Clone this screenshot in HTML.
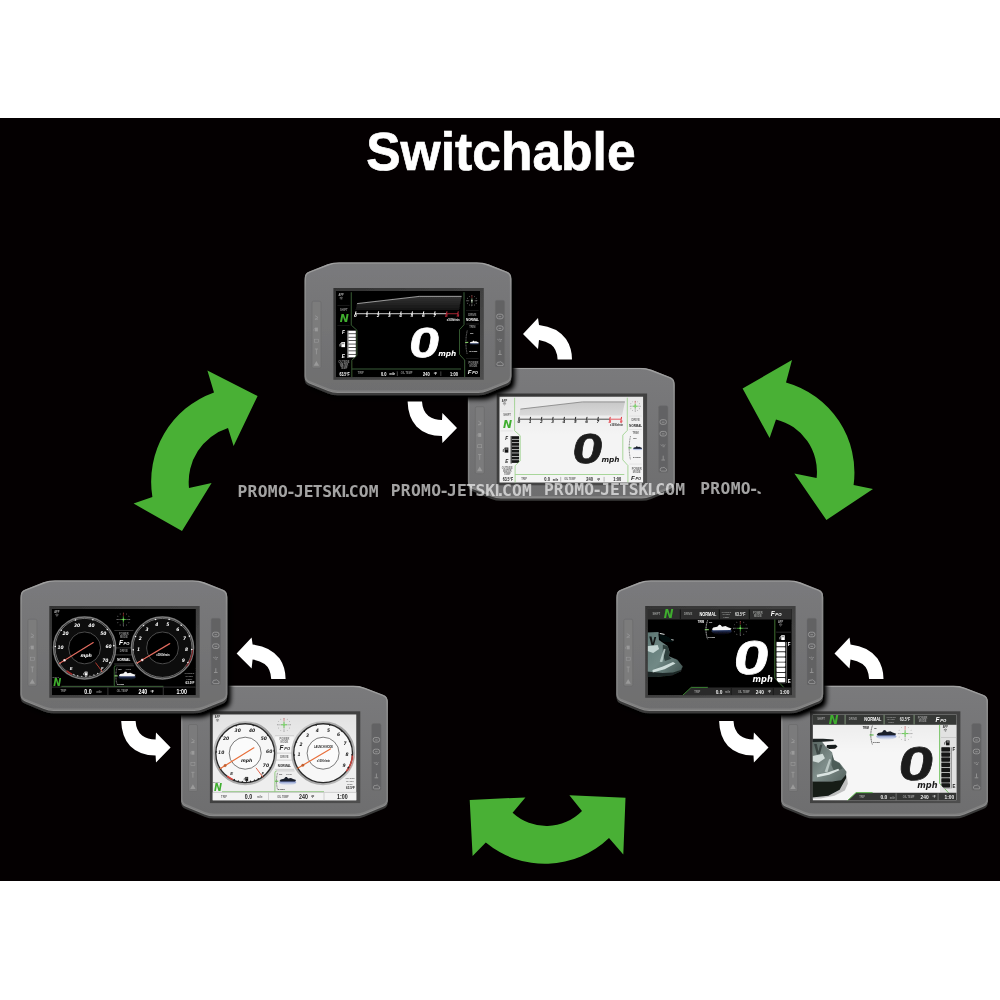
<!DOCTYPE html>
<html lang="en"><head><meta charset="utf-8"><title>Switchable</title>
<style>html,body{margin:0;padding:0;background:#fff}svg{display:block}</style></head><body>
<svg width="1000" height="1000" viewBox="0 0 1000 1000" style="opacity:.999">
<defs>
<linearGradient id="faceg" x1="0" y1="0" x2="0" y2="1"><stop offset="0" stop-color="#7a7a7c"/><stop offset="1" stop-color="#6e6e6f"/></linearGradient>
<linearGradient id="edgeg" x1="0" y1="0" x2="0" y2="1"><stop offset="0" stop-color="#a2a2a2"/><stop offset=".2" stop-color="#8c8c8c"/><stop offset="1" stop-color="#808080"/></linearGradient>
<linearGradient id="bezg" x1="0" y1="0" x2="1" y2="1"><stop offset="0" stop-color="#333333"/><stop offset=".55" stop-color="#424242"/><stop offset="1" stop-color="#4e4e4e"/></linearGradient>
<linearGradient id="lightscr" x1="0" y1="0" x2="0" y2="1"><stop offset="0" stop-color="#000" stop-opacity=".05"/><stop offset=".45" stop-color="#000" stop-opacity="0"/><stop offset="1" stop-color="#000" stop-opacity="0"/></linearGradient>
<linearGradient id="waterD" x1="0" y1="0" x2="0" y2="1"><stop offset="0" stop-color="#5a78c8"/><stop offset="1" stop-color="#0a1430" stop-opacity=".2"/></linearGradient>
<linearGradient id="waterL" x1="0" y1="0" x2="0" y2="1"><stop offset="0" stop-color="#2a46a0"/><stop offset="1" stop-color="#9ab0e8" stop-opacity=".1"/></linearGradient>
<linearGradient id="skiD" x1="0" y1="0" x2="1" y2="1"><stop offset="0" stop-color="#5e7673"/><stop offset=".5" stop-color="#718986"/><stop offset="1" stop-color="#3c4e4b"/></linearGradient>
<linearGradient id="skiL" x1="0" y1="0" x2="1" y2="1"><stop offset="0" stop-color="#56635f"/><stop offset=".5" stop-color="#7f8e8b"/><stop offset="1" stop-color="#55635f"/></linearGradient>
<clipPath id="facec"><path d="M22.90 2.16Q28.50 0.00 34.50 0.00L172.20 0.00Q178.20 0.00 183.80 2.16L202.04 9.20Q206.70 11.00 206.70 16.00L206.70 113.20Q206.70 118.20 202.07 120.09L183.33 127.71Q178.70 129.60 173.70 129.60L33.00 129.60Q28.00 129.60 23.37 127.71L4.63 120.09Q0.00 118.20 0.00 113.20L0.00 16.00Q0.00 11.00 4.66 9.20Z"/></clipPath>
<clipPath id="scrclip"><rect x="0" y="0" width="144" height="86.2"/></clipPath>
<linearGradient id="rpmD" x1="0" y1="0" x2="0" y2="1"><stop offset="0" stop-color="#323232"/><stop offset="1" stop-color="#151515"/></linearGradient>
<linearGradient id="rpmL" x1="0" y1="0" x2="0" y2="1"><stop offset="0" stop-color="#c8c8c8"/><stop offset="1" stop-color="#dadada"/></linearGradient>
<clipPath id="fuelclip1"><path d="M10 38 H20.4 V64.6 L17.6 67.4 H10 Z"/></clipPath>
<linearGradient id="silver" x1="0" y1="0" x2="1" y2="1"><stop offset="0" stop-color="#d2d2d2"/><stop offset=".5" stop-color="#9c9c9c"/><stop offset="1" stop-color="#c8c8c8"/></linearGradient>
<clipPath id="fuelclip"><path d="M128 30 H140 V85 L128.4 70.6 Z"/></clipPath>
<filter id="soft" x="-5%" y="-5%" width="110%" height="110%"><feGaussianBlur stdDeviation="0.7"/></filter>
<filter id="shadow" x="-10%" y="-10%" width="125%" height="130%"><feGaussianBlur in="SourceAlpha" stdDeviation="2.8"/><feOffset dx="2.5" dy="3.5"/><feComponentTransfer><feFuncA type="linear" slope="1.15"/></feComponentTransfer><feMerge><feMergeNode/><feMergeNode in="SourceGraphic"/></feMerge></filter>
<g id="dev"><path d="M22.90 2.16Q28.50 0.00 34.50 0.00L172.20 0.00Q178.20 0.00 183.80 2.16L202.04 9.20Q206.70 11.00 206.70 16.00L206.70 113.20Q206.70 118.20 202.07 120.09L183.33 127.71Q178.70 129.60 173.70 129.60L33.00 129.60Q28.00 129.60 23.37 127.71L4.63 120.09Q0.00 118.20 0.00 113.20L0.00 16.00Q0.00 11.00 4.66 9.20Z" transform="translate(0 3.5)" fill="#3a3a3a"/><path d="M22.90 2.16Q28.50 0.00 34.50 0.00L172.20 0.00Q178.20 0.00 183.80 2.16L202.04 9.20Q206.70 11.00 206.70 16.00L206.70 113.20Q206.70 118.20 202.07 120.09L183.33 127.71Q178.70 129.60 173.70 129.60L33.00 129.60Q28.00 129.60 23.37 127.71L4.63 120.09Q0.00 118.20 0.00 113.20L0.00 16.00Q0.00 11.00 4.66 9.20Z" transform="translate(0 1.2)" fill="#8a8a8a"/><path d="M22.90 2.16Q28.50 0.00 34.50 0.00L172.20 0.00Q178.20 0.00 183.80 2.16L202.04 9.20Q206.70 11.00 206.70 16.00L206.70 113.20Q206.70 118.20 202.07 120.09L183.33 127.71Q178.70 129.60 173.70 129.60L33.00 129.60Q28.00 129.60 23.37 127.71L4.63 120.09Q0.00 118.20 0.00 113.20L0.00 16.00Q0.00 11.00 4.66 9.20Z" fill="url(#faceg)" stroke="url(#edgeg)" stroke-width="2.8" clip-path="url(#facec)"/><rect x="7.4" y="39" width="9" height="67" rx="1.6" fill="#7b7b7c" stroke="#676767" stroke-width=".5"/><rect x="190.6" y="38.1" width="9.4" height="66.7" rx="1.6" fill="#626264" stroke="#6c6c6c" stroke-width=".5"/><path d="M10.40 53.4 l3 1.9 l-3 1.9 M10.20 57 h3.2" fill="none" stroke="#9a9a9a" stroke-width="0.75" /><rect x="10.30" y="65.40" width="3.00" height="3.80" fill="#9a9a9a" /><path d="M10.30 66 l-1 .8 v2" fill="none" stroke="#9a9a9a" stroke-width="0.50" /><rect x="9.80" y="77" width="4" height="3" fill="none" stroke="#9a9a9a" stroke-width=".6"/><path d="M10.20 86.8 h3.2 M11.80 86.8 v5.4" fill="none" stroke="#9a9a9a" stroke-width="0.85" /><path d="M11.80 98.8 l2.7 4.8 h-5.4 Z" fill="#9a9a9a" stroke="none" stroke-width="0.60" /><rect x="192.10" y="52.00" width="6.4" height="4.6" rx="2" fill="none" stroke="#a0a0a0" stroke-width=".8"/><line x1="194.00" y1="54.50" x2="196.60" y2="54.50" stroke="#a0a0a0" stroke-width="0.70" /><rect x="192.10" y="63.70" width="6.4" height="4.6" rx="2" fill="none" stroke="#a0a0a0" stroke-width=".8"/><line x1="194.00" y1="66.20" x2="196.60" y2="66.20" stroke="#a0a0a0" stroke-width="0.70" /><path d="M192.70 77.0 q1.2 1.6 2.4 0 q1.2 1.6 2.4 0 M194.70 79 h2" fill="none" stroke="#a0a0a0" stroke-width="0.65" /><path d="M195.30 88 v4 M193.50 92.3 h3.6" fill="none" stroke="#a0a0a0" stroke-width="0.75" /><path d="M193.40 103.4 q-1.8 -0.4 -1 -2 q0.2 -1.8 2.2 -1.4 q1.8 -1.2 2.8 0.6 q2 0.4 1 2.8 Z" fill="none" stroke="#a0a0a0" stroke-width="0.75" /><rect x="28.8" y="25.8" width="150.4" height="91.8" fill="url(#bezg)"/></g>
</defs>
<rect width="1000" height="1000" fill="#fff"/>
<rect x="0" y="118" width="1000" height="763" fill="#040001"/>
<text x="366.2" y="169.6" font-family="'Liberation Sans', sans-serif" font-weight="bold" font-size="53.4" textLength="269.4" lengthAdjust="spacingAndGlyphs" fill="#fff" stroke="#fff" stroke-width=".7">Switchable</text>
<path d="M257.6 396 L207.4 370.4 L214 392.4 A94.8 94.8 0 0 0 152.4 497 L133.6 503.6 L182 531 L211.6 483 L189 488 A56.7 56.7 0 0 1 228 428 L233.6 446 Z" fill="#49b035" stroke="none" stroke-width="0.60" /><path d="M742.6 388.6 L792 360 L786 382.4 A93.6 93.6 0 0 1 853.6 485 L873 489 L826.4 520 L794.4 473.6 L816.6 478 A54 54 0 0 0 776 419.4 L769.6 438 Z" fill="#49b035" stroke="none" stroke-width="0.60" /><path d="M469.7 800 L525.4 797.4 L512.6 812.8 A49.8 49.8 0 0 0 582 811 L569.4 795.2 L625.5 797.8 L623.3 854.6 L609 838 A92.5 92.5 0 0 1 485.8 842.5 L472.6 856 Z" fill="#49b035" stroke="none" stroke-width="0.60" />
<g transform="translate(467.90 367.70)"><use href="#dev"/><g transform="translate(31.4 28.8)"><g clip-path="url(#scrclip)"><rect x="0.00" y="0.00" width="144.00" height="86.20" fill="#f4f4f4" /><rect x="0.00" y="0.00" width="144.00" height="86.20" fill="url(#lightscr)" /><path d="M15.3 1.2 V34.2 L20.9 39.2 V64.4 L15.8 69.2 V86" fill="none" stroke="#8fcc7c" stroke-width="0.75" /><path d="M16 78 H125" fill="none" stroke="#8fcc7c" stroke-width="0.75" /><path d="M128 1.2 V33.9 L123.5 38.6 V63.4 L128.6 69 V86" fill="none" stroke="#8fcc7c" stroke-width="0.75" /><text transform="translate(5.20 5.00) scale(0.0950 0.1000)" font-family="'Liberation Sans', sans-serif" font-size="27.0" font-weight="bold" font-style="normal" text-anchor="middle" fill="#333" >APP</text><path d="M3.60 6.90 q1.6 -1.3 3.2 0" fill="none" stroke="#333" stroke-width="0.55" /><path d="M4.30 7.80 q0.9 -0.8 1.8 0" fill="none" stroke="#333" stroke-width="0.55" /><circle cx="5.20" cy="8.50" r="0.35" fill="#333" stroke="none" stroke-width="0.60" /><line x1="1.50" y1="14.60" x2="13.50" y2="14.60" stroke="#cfcfcf" stroke-width="0.40" /><text transform="translate(7.80 19.70) scale(0.1000 0.1000)" font-family="'Liberation Sans', sans-serif" font-size="27.0" font-weight="bold" font-style="normal" text-anchor="middle" fill="#6a6a6a" >SHIFT</text><text transform="translate(8.20 31.30) scale(0.1000 0.1000)" font-family="'DejaVu Sans', sans-serif" font-size="108.0" font-weight="bold" font-style="italic" text-anchor="middle" fill="#3fae2f" >N</text><line x1="1.50" y1="34.40" x2="13.50" y2="34.40" stroke="#cfcfcf" stroke-width="0.40" /><path d="M21.1 12.6 L83.2 5.4 L125.6 5.4 L122.8 19 L19.8 19 Z" fill="url(#rpmL)" stroke="none" stroke-width="0.60" /><path d="M21.1 12.6 L83.2 5.4 L125.6 5.4" fill="none" stroke="#7a7a7a" stroke-width="0.75" /><line x1="19.30" y1="22.70" x2="110.40" y2="22.70" stroke="#222" stroke-width="0.80" /><line x1="110.40" y1="22.70" x2="122.20" y2="22.70" stroke="#e2343c" stroke-width="0.80" /><line x1="19.95" y1="20.40" x2="19.45" y2="23.20" stroke="#222" stroke-width="1.00" /><text transform="translate(19.50 26.00) scale(0.1000 0.1000)" font-family="'DejaVu Sans', sans-serif" font-size="40.0" font-weight="bold" font-style="italic" text-anchor="middle" fill="#222" >0</text><line x1="31.25" y1="20.40" x2="30.75" y2="23.20" stroke="#222" stroke-width="1.00" /><text transform="translate(30.80 26.00) scale(0.1000 0.1000)" font-family="'DejaVu Sans', sans-serif" font-size="40.0" font-weight="bold" font-style="italic" text-anchor="middle" fill="#222" >1</text><line x1="42.55" y1="20.40" x2="42.05" y2="23.20" stroke="#222" stroke-width="1.00" /><text transform="translate(42.10 26.00) scale(0.1000 0.1000)" font-family="'DejaVu Sans', sans-serif" font-size="40.0" font-weight="bold" font-style="italic" text-anchor="middle" fill="#222" >2</text><line x1="53.85" y1="20.40" x2="53.35" y2="23.20" stroke="#222" stroke-width="1.00" /><text transform="translate(53.40 26.00) scale(0.1000 0.1000)" font-family="'DejaVu Sans', sans-serif" font-size="40.0" font-weight="bold" font-style="italic" text-anchor="middle" fill="#222" >3</text><line x1="65.15" y1="20.40" x2="64.65" y2="23.20" stroke="#222" stroke-width="1.00" /><text transform="translate(64.70 26.00) scale(0.1000 0.1000)" font-family="'DejaVu Sans', sans-serif" font-size="40.0" font-weight="bold" font-style="italic" text-anchor="middle" fill="#222" >4</text><line x1="76.45" y1="20.40" x2="75.95" y2="23.20" stroke="#222" stroke-width="1.00" /><text transform="translate(76.00 26.00) scale(0.1000 0.1000)" font-family="'DejaVu Sans', sans-serif" font-size="40.0" font-weight="bold" font-style="italic" text-anchor="middle" fill="#222" >5</text><line x1="87.75" y1="20.40" x2="87.25" y2="23.20" stroke="#222" stroke-width="1.00" /><text transform="translate(87.30 26.00) scale(0.1000 0.1000)" font-family="'DejaVu Sans', sans-serif" font-size="40.0" font-weight="bold" font-style="italic" text-anchor="middle" fill="#222" >6</text><line x1="99.05" y1="20.40" x2="98.55" y2="23.20" stroke="#222" stroke-width="1.00" /><text transform="translate(98.60 26.00) scale(0.1000 0.1000)" font-family="'DejaVu Sans', sans-serif" font-size="40.0" font-weight="bold" font-style="italic" text-anchor="middle" fill="#222" >7</text><line x1="110.95" y1="20.40" x2="110.45" y2="23.20" stroke="#e2343c" stroke-width="1.00" /><text transform="translate(110.50 26.00) scale(0.1000 0.1000)" font-family="'DejaVu Sans', sans-serif" font-size="40.0" font-weight="bold" font-style="italic" text-anchor="middle" fill="#e2343c" >8</text><line x1="122.25" y1="20.40" x2="121.75" y2="23.20" stroke="#e2343c" stroke-width="1.00" /><text transform="translate(121.80 26.00) scale(0.1000 0.1000)" font-family="'DejaVu Sans', sans-serif" font-size="40.0" font-weight="bold" font-style="italic" text-anchor="middle" fill="#e2343c" >9</text><text transform="translate(117.20 29.60) scale(0.0950 0.1000)" font-family="'Liberation Sans', sans-serif" font-size="26.0" font-weight="bold" font-style="normal" text-anchor="middle" fill="#1c1c1c" >x1000r/min</text><text transform="translate(7.40 43.40) scale(0.1000 0.1000)" font-family="'Liberation Sans', sans-serif" font-size="46.0" font-weight="bold" font-style="italic" text-anchor="middle" fill="#1c1c1c" >F</text><text transform="translate(7.40 66.90) scale(0.1000 0.1000)" font-family="'Liberation Sans', sans-serif" font-size="46.0" font-weight="bold" font-style="italic" text-anchor="middle" fill="#1c1c1c" >E</text><g transform="translate(7.20 53.60) scale(1.150)"><rect x="-1.6" y="-2.2" width="3.2" height="4.4" fill="#111"/><rect x="-1" y="-1.6" width="2" height="1.3" fill="#fff" opacity=".45"/><path d="M-1.6 -1.2 L-2.8 -0.4 V1.6" fill="none" stroke="#111" stroke-width=".6"/></g><g clip-path="url(#fuelclip1)"><rect x="11.20" y="39.60" width="1.40" height="27.40" fill="#555" /><rect x="12.40" y="39.70" width="7.40" height="2.75" fill="#161616" /><rect x="12.40" y="43.12" width="7.40" height="2.75" fill="#161616" /><rect x="12.40" y="46.54" width="7.40" height="2.75" fill="#161616" /><rect x="12.40" y="49.96" width="7.40" height="2.75" fill="#161616" /><rect x="12.40" y="53.38" width="7.40" height="2.75" fill="#161616" /><rect x="12.40" y="56.80" width="7.40" height="2.75" fill="#161616" /><rect x="12.40" y="60.22" width="7.40" height="2.75" fill="#161616" /><rect x="12.40" y="63.64" width="7.40" height="2.75" fill="#161616" /></g><text transform="translate(8.00 72.00) scale(0.0950 0.1000)" font-family="'Liberation Sans', sans-serif" font-size="26.0" font-weight="bold" font-style="normal" text-anchor="middle" fill="#6a6a6a" >OUTSIDE</text><text transform="translate(8.00 75.00) scale(0.0950 0.1000)" font-family="'Liberation Sans', sans-serif" font-size="26.0" font-weight="bold" font-style="normal" text-anchor="middle" fill="#6a6a6a" >WATER</text><text transform="translate(8.00 78.00) scale(0.0950 0.1000)" font-family="'Liberation Sans', sans-serif" font-size="26.0" font-weight="bold" font-style="normal" text-anchor="middle" fill="#6a6a6a" >TEMP</text><text transform="translate(8.60 84.50) scale(0.0700 0.1000)" font-family="'Liberation Sans', sans-serif" font-size="50.0" font-weight="bold" font-style="normal" text-anchor="middle" fill="#1c1c1c" >63.5°F</text><text transform="translate(24.80 83.30) scale(0.1000 0.1000)" font-family="'Liberation Sans', sans-serif" font-size="26.0" font-weight="bold" font-style="normal" text-anchor="middle" fill="#6a6a6a" >TRIP</text><text transform="translate(47.80 84.50) scale(0.0800 0.1000)" font-family="'Liberation Sans', sans-serif" font-size="50.0" font-weight="bold" font-style="normal" text-anchor="middle" fill="#1c1c1c" >0.0</text><text transform="translate(56.20 84.00) scale(0.1000 0.1000)" font-family="'Liberation Sans', sans-serif" font-size="27.0" font-weight="bold" font-style="normal" text-anchor="middle" fill="#1c1c1c" >mile</text><line x1="61.40" y1="80.40" x2="61.40" y2="85.00" stroke="#6a6a6a" stroke-width="0.45" /><text transform="translate(70.60 83.30) scale(0.0950 0.1000)" font-family="'Liberation Sans', sans-serif" font-size="26.0" font-weight="bold" font-style="normal" text-anchor="middle" fill="#6a6a6a" >OIL TEMP</text><text transform="translate(90.30 84.50) scale(0.0800 0.1000)" font-family="'Liberation Sans', sans-serif" font-size="50.0" font-weight="bold" font-style="normal" text-anchor="middle" fill="#1c1c1c" >240</text><text transform="translate(99.30 84.20) scale(0.1000 0.1000)" font-family="'Liberation Sans', sans-serif" font-size="30.0" font-weight="bold" font-style="normal" text-anchor="middle" fill="#1c1c1c" >°F</text><line x1="104.80" y1="80.40" x2="104.80" y2="85.00" stroke="#6a6a6a" stroke-width="0.45" /><text transform="translate(117.90 84.50) scale(0.0800 0.1000)" font-family="'Liberation Sans', sans-serif" font-size="50.0" font-weight="bold" font-style="normal" text-anchor="middle" fill="#1c1c1c" >1:00</text><text transform="translate(89.00 66.10) skewX(4.0) scale(0.1310 0.1000)" font-family="'Liberation Sans', sans-serif" font-size="418.0" font-weight="bold" font-style="italic" text-anchor="middle" fill="#1c1c1c" stroke="#1c1c1c" stroke-width="6.0" stroke-linejoin="round">0</text><text transform="translate(111.20 65.30) scale(0.1000 0.1000)" font-family="'DejaVu Sans', sans-serif" font-size="73.0" font-weight="bold" font-style="italic" text-anchor="middle" fill="#1c1c1c" >mph</text><circle cx="140.90" cy="9.70" r="0.45" fill="#888" stroke="none" stroke-width="0.60" /><circle cx="140.23" cy="12.20" r="0.45" fill="#888" stroke="none" stroke-width="0.60" /><circle cx="138.40" cy="14.03" r="0.45" fill="#888" stroke="none" stroke-width="0.60" /><circle cx="135.90" cy="14.70" r="0.45" fill="#888" stroke="none" stroke-width="0.60" /><circle cx="133.40" cy="14.03" r="0.45" fill="#888" stroke="none" stroke-width="0.60" /><circle cx="131.57" cy="12.20" r="0.45" fill="#888" stroke="none" stroke-width="0.60" /><circle cx="130.90" cy="9.70" r="0.45" fill="#888" stroke="none" stroke-width="0.60" /><circle cx="131.57" cy="7.20" r="0.45" fill="#888" stroke="none" stroke-width="0.60" /><circle cx="133.40" cy="5.37" r="0.45" fill="#888" stroke="none" stroke-width="0.60" /><circle cx="135.90" cy="4.70" r="0.45" fill="#888" stroke="none" stroke-width="0.60" /><circle cx="138.40" cy="5.37" r="0.45" fill="#888" stroke="none" stroke-width="0.60" /><circle cx="140.23" cy="7.20" r="0.45" fill="#888" stroke="none" stroke-width="0.60" /><line x1="138.65" y1="9.70" x2="141.15" y2="9.70" stroke="#888" stroke-width="0.50" /><line x1="135.90" y1="12.45" x2="135.90" y2="14.95" stroke="#888" stroke-width="0.50" /><line x1="133.15" y1="9.70" x2="130.65" y2="9.70" stroke="#888" stroke-width="0.50" /><line x1="135.90" y1="6.95" x2="135.90" y2="4.45" stroke="#c33" stroke-width="0.50" /><line x1="133.40" y1="9.70" x2="138.40" y2="9.70" stroke="#49b035" stroke-width="0.80" /><line x1="135.90" y1="7.20" x2="135.90" y2="12.20" stroke="#49b035" stroke-width="0.80" /><circle cx="135.90" cy="9.70" r="1.00" fill="#7fdc6a" stroke="none" stroke-width="0.60" /><line x1="130.00" y1="19.60" x2="142.50" y2="19.60" stroke="#cfcfcf" stroke-width="0.40" /><text transform="translate(136.30 24.50) scale(0.1000 0.1000)" font-family="'Liberation Sans', sans-serif" font-size="27.0" font-weight="bold" font-style="normal" text-anchor="middle" fill="#6a6a6a" >DRIVE</text><text transform="translate(136.40 30.30) scale(0.0660 0.1000)" font-family="'Liberation Sans', sans-serif" font-size="44.0" font-weight="bold" font-style="normal" text-anchor="middle" fill="#1c1c1c" >NORMAL</text><line x1="130.00" y1="33.00" x2="142.50" y2="33.00" stroke="#cfcfcf" stroke-width="0.40" /><text transform="translate(136.30 37.30) scale(0.1000 0.1000)" font-family="'Liberation Sans', sans-serif" font-size="26.0" font-weight="bold" font-style="normal" text-anchor="middle" fill="#6a6a6a" >TRIM</text><text transform="translate(135.80 42.80) scale(0.1000 0.1000)" font-family="'Liberation Sans', sans-serif" font-size="25.0" font-weight="bold" font-style="normal" text-anchor="middle" fill="#1c1c1c" >UP</text><g transform="translate(138.30 51.30) scale(0.440)"><ellipse cx="0" cy="3.2" rx="10.5" ry="3.2" fill="url(#waterL)"/><path d="M-10 1.2 L-8.5 -0.6 L-4.5 -1.4 L-2.6 -3.6 L-1 -3.4 L0.5 -1.6 L4 -2.2 L6.5 -1 L10.2 0.2 L9 1.9 L-8.6 2.1 Z" fill="#1a1f2a"/></g><text transform="translate(137.40 61.10) scale(0.1000 0.1000)" font-family="'Liberation Sans', sans-serif" font-size="24.0" font-weight="bold" font-style="normal" text-anchor="middle" fill="#1c1c1c" >DOWN</text><path d="M131.2 39.6 Q128.6 51.5 131.2 63.4" fill="none" stroke="#333" stroke-width="0.60" stroke-dasharray="1 .6"/><line x1="129.20" y1="51.40" x2="132.20" y2="51.40" stroke="#49b035" stroke-width="1.00" /><line x1="130.00" y1="67.60" x2="142.50" y2="67.60" stroke="#cfcfcf" stroke-width="0.40" /><text transform="translate(137.40 73.30) scale(0.1000 0.1000)" font-family="'Liberation Sans', sans-serif" font-size="26.0" font-weight="bold" font-style="normal" text-anchor="middle" fill="#6a6a6a" >POWER</text><text transform="translate(137.40 76.40) scale(0.1000 0.1000)" font-family="'Liberation Sans', sans-serif" font-size="26.0" font-weight="bold" font-style="normal" text-anchor="middle" fill="#6a6a6a" >MODE</text><text transform="translate(133.60 83.30) scale(0.1000 0.1000)" font-family="'Liberation Sans', sans-serif" font-size="62.0" font-weight="bold" font-style="italic" text-anchor="middle" fill="#1c1c1c" >F</text><text transform="translate(138.90 83.30) scale(0.1000 0.1000)" font-family="'Liberation Sans', sans-serif" font-size="38.0" font-weight="bold" font-style="italic" text-anchor="middle" fill="#1c1c1c" >PO</text></g></g></g>
<g transform="translate(304.60 262.20)" filter="url(#shadow)"><use href="#dev"/><g transform="translate(31.4 28.8)"><g clip-path="url(#scrclip)"><rect x="0.00" y="0.00" width="144.00" height="86.20" fill="#050505" /><path d="M15.3 1.2 V34.2 L20.9 39.2 V64.4 L15.8 69.2 V86" fill="none" stroke="#3f6b3a" stroke-width="0.80" /><path d="M16 78 H125" fill="none" stroke="#3f6b3a" stroke-width="0.80" /><path d="M128 1.2 V33.9 L123.5 38.6 V63.4 L128.6 69 V86" fill="none" stroke="#3f6b3a" stroke-width="0.80" /><text transform="translate(5.20 5.00) scale(0.0950 0.1000)" font-family="'Liberation Sans', sans-serif" font-size="27.0" font-weight="bold" font-style="normal" text-anchor="middle" fill="#b0b0b0" >APP</text><path d="M3.60 6.90 q1.6 -1.3 3.2 0" fill="none" stroke="#b0b0b0" stroke-width="0.55" /><path d="M4.30 7.80 q0.9 -0.8 1.8 0" fill="none" stroke="#b0b0b0" stroke-width="0.55" /><circle cx="5.20" cy="8.50" r="0.35" fill="#b0b0b0" stroke="none" stroke-width="0.60" /><line x1="1.50" y1="14.60" x2="13.50" y2="14.60" stroke="#333" stroke-width="0.40" /><text transform="translate(7.80 19.70) scale(0.1000 0.1000)" font-family="'Liberation Sans', sans-serif" font-size="27.0" font-weight="bold" font-style="normal" text-anchor="middle" fill="#8e8e8e" >SHIFT</text><text transform="translate(8.20 31.30) scale(0.1000 0.1000)" font-family="'DejaVu Sans', sans-serif" font-size="108.0" font-weight="bold" font-style="italic" text-anchor="middle" fill="#3fae2f" >N</text><line x1="1.50" y1="34.40" x2="13.50" y2="34.40" stroke="#333" stroke-width="0.40" /><path d="M21.1 12.6 L83.2 5.4 L125.6 5.4 L122.8 19 L19.8 19 Z" fill="url(#rpmD)" stroke="none" stroke-width="0.60" /><path d="M21.1 12.6 L83.2 5.4 L125.6 5.4" fill="none" stroke="#c4c4c4" stroke-width="0.75" /><line x1="19.30" y1="22.70" x2="110.40" y2="22.70" stroke="#ffffff" stroke-width="0.80" /><line x1="110.40" y1="22.70" x2="122.20" y2="22.70" stroke="#c32a3a" stroke-width="0.80" /><line x1="19.95" y1="20.40" x2="19.45" y2="23.20" stroke="#ffffff" stroke-width="1.00" /><text transform="translate(19.50 26.00) scale(0.1000 0.1000)" font-family="'DejaVu Sans', sans-serif" font-size="40.0" font-weight="bold" font-style="italic" text-anchor="middle" fill="#ffffff" >0</text><line x1="31.25" y1="20.40" x2="30.75" y2="23.20" stroke="#ffffff" stroke-width="1.00" /><text transform="translate(30.80 26.00) scale(0.1000 0.1000)" font-family="'DejaVu Sans', sans-serif" font-size="40.0" font-weight="bold" font-style="italic" text-anchor="middle" fill="#ffffff" >1</text><line x1="42.55" y1="20.40" x2="42.05" y2="23.20" stroke="#ffffff" stroke-width="1.00" /><text transform="translate(42.10 26.00) scale(0.1000 0.1000)" font-family="'DejaVu Sans', sans-serif" font-size="40.0" font-weight="bold" font-style="italic" text-anchor="middle" fill="#ffffff" >2</text><line x1="53.85" y1="20.40" x2="53.35" y2="23.20" stroke="#ffffff" stroke-width="1.00" /><text transform="translate(53.40 26.00) scale(0.1000 0.1000)" font-family="'DejaVu Sans', sans-serif" font-size="40.0" font-weight="bold" font-style="italic" text-anchor="middle" fill="#ffffff" >3</text><line x1="65.15" y1="20.40" x2="64.65" y2="23.20" stroke="#ffffff" stroke-width="1.00" /><text transform="translate(64.70 26.00) scale(0.1000 0.1000)" font-family="'DejaVu Sans', sans-serif" font-size="40.0" font-weight="bold" font-style="italic" text-anchor="middle" fill="#ffffff" >4</text><line x1="76.45" y1="20.40" x2="75.95" y2="23.20" stroke="#ffffff" stroke-width="1.00" /><text transform="translate(76.00 26.00) scale(0.1000 0.1000)" font-family="'DejaVu Sans', sans-serif" font-size="40.0" font-weight="bold" font-style="italic" text-anchor="middle" fill="#ffffff" >5</text><line x1="87.75" y1="20.40" x2="87.25" y2="23.20" stroke="#ffffff" stroke-width="1.00" /><text transform="translate(87.30 26.00) scale(0.1000 0.1000)" font-family="'DejaVu Sans', sans-serif" font-size="40.0" font-weight="bold" font-style="italic" text-anchor="middle" fill="#ffffff" >6</text><line x1="99.05" y1="20.40" x2="98.55" y2="23.20" stroke="#ffffff" stroke-width="1.00" /><text transform="translate(98.60 26.00) scale(0.1000 0.1000)" font-family="'DejaVu Sans', sans-serif" font-size="40.0" font-weight="bold" font-style="italic" text-anchor="middle" fill="#ffffff" >7</text><line x1="110.95" y1="20.40" x2="110.45" y2="23.20" stroke="#c32a3a" stroke-width="1.00" /><text transform="translate(110.50 26.00) scale(0.1000 0.1000)" font-family="'DejaVu Sans', sans-serif" font-size="40.0" font-weight="bold" font-style="italic" text-anchor="middle" fill="#c32a3a" >8</text><line x1="122.25" y1="20.40" x2="121.75" y2="23.20" stroke="#c32a3a" stroke-width="1.00" /><text transform="translate(121.80 26.00) scale(0.1000 0.1000)" font-family="'DejaVu Sans', sans-serif" font-size="40.0" font-weight="bold" font-style="italic" text-anchor="middle" fill="#c32a3a" >9</text><text transform="translate(117.20 29.60) scale(0.0950 0.1000)" font-family="'Liberation Sans', sans-serif" font-size="26.0" font-weight="bold" font-style="normal" text-anchor="middle" fill="#ffffff" >x1000r/min</text><text transform="translate(7.40 43.40) scale(0.1000 0.1000)" font-family="'Liberation Sans', sans-serif" font-size="46.0" font-weight="bold" font-style="italic" text-anchor="middle" fill="#ffffff" >F</text><text transform="translate(7.40 66.90) scale(0.1000 0.1000)" font-family="'Liberation Sans', sans-serif" font-size="46.0" font-weight="bold" font-style="italic" text-anchor="middle" fill="#ffffff" >E</text><g transform="translate(7.20 53.60) scale(1.150)"><rect x="-1.6" y="-2.2" width="3.2" height="4.4" fill="#ffffff"/><rect x="-1" y="-1.6" width="2" height="1.3" fill="#000" opacity=".45"/><path d="M-1.6 -1.2 L-2.8 -0.4 V1.6" fill="none" stroke="#ffffff" stroke-width=".6"/></g><g clip-path="url(#fuelclip1)"><rect x="11.20" y="39.60" width="1.40" height="27.40" fill="#8a8a8a" /><rect x="12.40" y="39.70" width="7.40" height="2.75" fill="#ffffff" /><rect x="12.40" y="43.12" width="7.40" height="2.75" fill="#ffffff" /><rect x="12.40" y="46.54" width="7.40" height="2.75" fill="#ffffff" /><rect x="12.40" y="49.96" width="7.40" height="2.75" fill="#ffffff" /><rect x="12.40" y="53.38" width="7.40" height="2.75" fill="#ffffff" /><rect x="12.40" y="56.80" width="7.40" height="2.75" fill="#ffffff" /><rect x="12.40" y="60.22" width="7.40" height="2.75" fill="#ffffff" /><rect x="12.40" y="63.64" width="7.40" height="2.75" fill="#ffffff" /></g><text transform="translate(8.00 72.00) scale(0.0950 0.1000)" font-family="'Liberation Sans', sans-serif" font-size="26.0" font-weight="bold" font-style="normal" text-anchor="middle" fill="#8e8e8e" >OUTSIDE</text><text transform="translate(8.00 75.00) scale(0.0950 0.1000)" font-family="'Liberation Sans', sans-serif" font-size="26.0" font-weight="bold" font-style="normal" text-anchor="middle" fill="#8e8e8e" >WATER</text><text transform="translate(8.00 78.00) scale(0.0950 0.1000)" font-family="'Liberation Sans', sans-serif" font-size="26.0" font-weight="bold" font-style="normal" text-anchor="middle" fill="#8e8e8e" >TEMP</text><text transform="translate(8.60 84.50) scale(0.0700 0.1000)" font-family="'Liberation Sans', sans-serif" font-size="50.0" font-weight="bold" font-style="normal" text-anchor="middle" fill="#ffffff" >63.5°F</text><text transform="translate(24.80 83.30) scale(0.1000 0.1000)" font-family="'Liberation Sans', sans-serif" font-size="26.0" font-weight="bold" font-style="normal" text-anchor="middle" fill="#8e8e8e" >TRIP</text><text transform="translate(47.80 84.50) scale(0.0800 0.1000)" font-family="'Liberation Sans', sans-serif" font-size="50.0" font-weight="bold" font-style="normal" text-anchor="middle" fill="#ffffff" >0.0</text><text transform="translate(56.20 84.00) scale(0.1000 0.1000)" font-family="'Liberation Sans', sans-serif" font-size="27.0" font-weight="bold" font-style="normal" text-anchor="middle" fill="#ffffff" >mile</text><line x1="61.40" y1="80.40" x2="61.40" y2="85.00" stroke="#8e8e8e" stroke-width="0.45" /><text transform="translate(70.60 83.30) scale(0.0950 0.1000)" font-family="'Liberation Sans', sans-serif" font-size="26.0" font-weight="bold" font-style="normal" text-anchor="middle" fill="#8e8e8e" >OIL TEMP</text><text transform="translate(90.30 84.50) scale(0.0800 0.1000)" font-family="'Liberation Sans', sans-serif" font-size="50.0" font-weight="bold" font-style="normal" text-anchor="middle" fill="#ffffff" >240</text><text transform="translate(99.30 84.20) scale(0.1000 0.1000)" font-family="'Liberation Sans', sans-serif" font-size="30.0" font-weight="bold" font-style="normal" text-anchor="middle" fill="#ffffff" >°F</text><line x1="104.80" y1="80.40" x2="104.80" y2="85.00" stroke="#8e8e8e" stroke-width="0.45" /><text transform="translate(117.90 84.50) scale(0.0800 0.1000)" font-family="'Liberation Sans', sans-serif" font-size="50.0" font-weight="bold" font-style="normal" text-anchor="middle" fill="#ffffff" >1:00</text><text transform="translate(89.00 66.10) skewX(4.0) scale(0.1310 0.1000)" font-family="'Liberation Sans', sans-serif" font-size="418.0" font-weight="bold" font-style="italic" text-anchor="middle" fill="#ffffff" stroke="#ffffff" stroke-width="6.0" stroke-linejoin="round">0</text><text transform="translate(111.20 65.30) scale(0.1000 0.1000)" font-family="'DejaVu Sans', sans-serif" font-size="73.0" font-weight="bold" font-style="italic" text-anchor="middle" fill="#ffffff" >mph</text><circle cx="140.90" cy="9.70" r="0.45" fill="#999" stroke="none" stroke-width="0.60" /><circle cx="140.23" cy="12.20" r="0.45" fill="#999" stroke="none" stroke-width="0.60" /><circle cx="138.40" cy="14.03" r="0.45" fill="#999" stroke="none" stroke-width="0.60" /><circle cx="135.90" cy="14.70" r="0.45" fill="#999" stroke="none" stroke-width="0.60" /><circle cx="133.40" cy="14.03" r="0.45" fill="#999" stroke="none" stroke-width="0.60" /><circle cx="131.57" cy="12.20" r="0.45" fill="#999" stroke="none" stroke-width="0.60" /><circle cx="130.90" cy="9.70" r="0.45" fill="#999" stroke="none" stroke-width="0.60" /><circle cx="131.57" cy="7.20" r="0.45" fill="#999" stroke="none" stroke-width="0.60" /><circle cx="133.40" cy="5.37" r="0.45" fill="#999" stroke="none" stroke-width="0.60" /><circle cx="135.90" cy="4.70" r="0.45" fill="#999" stroke="none" stroke-width="0.60" /><circle cx="138.40" cy="5.37" r="0.45" fill="#999" stroke="none" stroke-width="0.60" /><circle cx="140.23" cy="7.20" r="0.45" fill="#999" stroke="none" stroke-width="0.60" /><line x1="138.65" y1="9.70" x2="141.15" y2="9.70" stroke="#999" stroke-width="0.50" /><line x1="135.90" y1="12.45" x2="135.90" y2="14.95" stroke="#999" stroke-width="0.50" /><line x1="133.15" y1="9.70" x2="130.65" y2="9.70" stroke="#999" stroke-width="0.50" /><line x1="135.90" y1="6.95" x2="135.90" y2="4.45" stroke="#c33" stroke-width="0.50" /><line x1="135.90" y1="7.45" x2="135.90" y2="11.95" stroke="#9fbf98" stroke-width="0.90" /><circle cx="135.90" cy="9.70" r="0.80" fill="#e8f4e4" stroke="none" stroke-width="0.60" /><line x1="130.00" y1="19.60" x2="142.50" y2="19.60" stroke="#333" stroke-width="0.40" /><text transform="translate(136.30 24.50) scale(0.1000 0.1000)" font-family="'Liberation Sans', sans-serif" font-size="27.0" font-weight="bold" font-style="normal" text-anchor="middle" fill="#8e8e8e" >DRIVE</text><text transform="translate(136.40 30.30) scale(0.0660 0.1000)" font-family="'Liberation Sans', sans-serif" font-size="44.0" font-weight="bold" font-style="normal" text-anchor="middle" fill="#ffffff" >NORMAL</text><line x1="130.00" y1="33.00" x2="142.50" y2="33.00" stroke="#333" stroke-width="0.40" /><text transform="translate(136.30 37.30) scale(0.1000 0.1000)" font-family="'Liberation Sans', sans-serif" font-size="26.0" font-weight="bold" font-style="normal" text-anchor="middle" fill="#8e8e8e" >TRIM</text><text transform="translate(135.80 42.80) scale(0.1000 0.1000)" font-family="'Liberation Sans', sans-serif" font-size="25.0" font-weight="bold" font-style="normal" text-anchor="middle" fill="#ffffff" >UP</text><g transform="translate(138.30 51.30) scale(0.440)"><ellipse cx="0" cy="3.2" rx="10.5" ry="3.2" fill="url(#waterD)"/><path d="M-10 1.2 L-8.5 -0.6 L-4.5 -1.4 L-2.6 -3.6 L-1 -3.4 L0.5 -1.6 L4 -2.2 L6.5 -1 L10.2 0.2 L9 1.9 L-8.6 2.1 Z" fill="#f4f4f4"/></g><text transform="translate(137.40 61.10) scale(0.1000 0.1000)" font-family="'Liberation Sans', sans-serif" font-size="24.0" font-weight="bold" font-style="normal" text-anchor="middle" fill="#ffffff" >DOWN</text><path d="M131.2 39.6 Q128.6 51.5 131.2 63.4" fill="none" stroke="#aaa" stroke-width="0.60" stroke-dasharray="1 .6"/><line x1="129.20" y1="51.40" x2="132.20" y2="51.40" stroke="#8fe070" stroke-width="1.00" /><line x1="130.00" y1="67.60" x2="142.50" y2="67.60" stroke="#333" stroke-width="0.40" /><text transform="translate(137.40 73.30) scale(0.1000 0.1000)" font-family="'Liberation Sans', sans-serif" font-size="26.0" font-weight="bold" font-style="normal" text-anchor="middle" fill="#8e8e8e" >POWER</text><text transform="translate(137.40 76.40) scale(0.1000 0.1000)" font-family="'Liberation Sans', sans-serif" font-size="26.0" font-weight="bold" font-style="normal" text-anchor="middle" fill="#8e8e8e" >MODE</text><text transform="translate(133.60 83.30) scale(0.1000 0.1000)" font-family="'Liberation Sans', sans-serif" font-size="62.0" font-weight="bold" font-style="italic" text-anchor="middle" fill="#ffffff" >F</text><text transform="translate(138.90 83.30) scale(0.1000 0.1000)" font-family="'Liberation Sans', sans-serif" font-size="38.0" font-weight="bold" font-style="italic" text-anchor="middle" fill="#ffffff" >PO</text></g></g></g>
<g transform="translate(181.10 685.50)"><use href="#dev"/><g transform="translate(31.4 28.8)"><g clip-path="url(#scrclip)"><rect x="0.00" y="0.00" width="144.00" height="86.20" fill="#eeeeee" /><rect x="0.00" y="0.00" width="144.00" height="86.20" fill="url(#lightscr)" /><text transform="translate(5.00 3.80) scale(0.0950 0.1000)" font-family="'Liberation Sans', sans-serif" font-size="27.0" font-weight="bold" font-style="normal" text-anchor="middle" fill="#333" >APP</text><path d="M3.40 5.70 q1.6 -1.3 3.2 0" fill="none" stroke="#333" stroke-width="0.55" /><path d="M4.10 6.60 q0.9 -0.8 1.8 0" fill="none" stroke="#333" stroke-width="0.55" /><circle cx="5.00" cy="7.30" r="0.35" fill="#333" stroke="none" stroke-width="0.60" /><rect x="62.60" y="21.60" width="18.60" height="33.40" fill="#f6f6f6" /><rect x="0.00" y="78.10" width="144.00" height="8.10" fill="#f3f3f3" /><path d="M62.5 21.5 H81.5 M62.5 38.8 H81.5 M62.5 45.8 H81.5 M62.5 55 H81.5" fill="none" stroke="#b4b4b4" stroke-width="0.55" /><circle cx="77.90" cy="10.50" r="0.45" fill="#888" stroke="none" stroke-width="0.60" /><circle cx="77.04" cy="13.70" r="0.45" fill="#888" stroke="none" stroke-width="0.60" /><circle cx="74.70" cy="16.04" r="0.45" fill="#888" stroke="none" stroke-width="0.60" /><circle cx="71.50" cy="16.90" r="0.45" fill="#888" stroke="none" stroke-width="0.60" /><circle cx="68.30" cy="16.04" r="0.45" fill="#888" stroke="none" stroke-width="0.60" /><circle cx="65.96" cy="13.70" r="0.45" fill="#888" stroke="none" stroke-width="0.60" /><circle cx="65.10" cy="10.50" r="0.45" fill="#888" stroke="none" stroke-width="0.60" /><circle cx="65.96" cy="7.30" r="0.45" fill="#888" stroke="none" stroke-width="0.60" /><circle cx="68.30" cy="4.96" r="0.45" fill="#888" stroke="none" stroke-width="0.60" /><circle cx="71.50" cy="4.10" r="0.45" fill="#888" stroke="none" stroke-width="0.60" /><circle cx="74.70" cy="4.96" r="0.45" fill="#888" stroke="none" stroke-width="0.60" /><circle cx="77.04" cy="7.30" r="0.45" fill="#888" stroke="none" stroke-width="0.60" /><line x1="75.02" y1="10.50" x2="78.22" y2="10.50" stroke="#888" stroke-width="0.50" /><line x1="71.50" y1="14.02" x2="71.50" y2="17.22" stroke="#888" stroke-width="0.50" /><line x1="67.98" y1="10.50" x2="64.78" y2="10.50" stroke="#888" stroke-width="0.50" /><line x1="71.50" y1="6.98" x2="71.50" y2="3.78" stroke="#c33" stroke-width="0.50" /><line x1="68.30" y1="10.50" x2="74.70" y2="10.50" stroke="#49b035" stroke-width="0.80" /><line x1="71.50" y1="7.30" x2="71.50" y2="13.70" stroke="#49b035" stroke-width="0.80" /><circle cx="71.50" cy="10.50" r="1.00" fill="#7fdc6a" stroke="none" stroke-width="0.60" /><text transform="translate(71.90 26.00) scale(0.0950 0.1000)" font-family="'Liberation Sans', sans-serif" font-size="27.0" font-weight="bold" font-style="normal" text-anchor="middle" fill="#6a6a6a" >POWER</text><text transform="translate(71.90 29.10) scale(0.0950 0.1000)" font-family="'Liberation Sans', sans-serif" font-size="27.0" font-weight="bold" font-style="normal" text-anchor="middle" fill="#6a6a6a" >MODE</text><text transform="translate(69.00 36.00) scale(0.1000 0.1000)" font-family="'Liberation Sans', sans-serif" font-size="66.0" font-weight="bold" font-style="italic" text-anchor="middle" fill="#1c1c1c" >F</text><text transform="translate(74.60 36.00) scale(0.1000 0.1000)" font-family="'Liberation Sans', sans-serif" font-size="40.0" font-weight="bold" font-style="italic" text-anchor="middle" fill="#1c1c1c" >PO</text><text transform="translate(71.90 43.30) scale(0.1000 0.1000)" font-family="'Liberation Sans', sans-serif" font-size="27.0" font-weight="bold" font-style="normal" text-anchor="middle" fill="#6a6a6a" >DRIVE</text><text transform="translate(71.90 52.30) scale(0.0680 0.1000)" font-family="'Liberation Sans', sans-serif" font-size="44.0" font-weight="bold" font-style="normal" text-anchor="middle" fill="#1c1c1c" >NORMAL</text><path d="M9.5 77.4 H111.5" fill="none" stroke="#7cc068" stroke-width="0.80" /><path d="M62.4 77.2 V58.6 Q62.4 56.6 64.4 56.6" fill="none" stroke="#7cc068" stroke-width="0.80" /><path d="M64.4 56.6 H82" fill="none" stroke="#b4b4b4" stroke-width="0.55" /><path d="M65.0 58.6 Q63.0 66.5 65.0 75.2" fill="none" stroke="#333" stroke-width="0.60" stroke-dasharray="1 .5"/><line x1="62.60" y1="66.90" x2="65.80" y2="66.90" stroke="#49b035" stroke-width="1.00" /><text transform="translate(68.20 60.60) scale(0.1000 0.1000)" font-family="'Liberation Sans', sans-serif" font-size="23.0" font-weight="bold" font-style="normal" text-anchor="middle" fill="#1c1c1c" >UP</text><text transform="translate(76.40 60.60) scale(0.1000 0.1000)" font-family="'Liberation Sans', sans-serif" font-size="23.0" font-weight="bold" font-style="normal" text-anchor="middle" fill="#6a6a6a" >TRIM</text><text transform="translate(68.80 75.60) scale(0.1000 0.1000)" font-family="'Liberation Sans', sans-serif" font-size="22.0" font-weight="bold" font-style="normal" text-anchor="middle" fill="#1c1c1c" >DOWN</text><g transform="translate(75.20 65.60) scale(0.820)"><ellipse cx="0" cy="3.2" rx="10.5" ry="3.2" fill="url(#waterL)"/><path d="M-10 1.2 L-8.5 -0.6 L-4.5 -1.4 L-2.6 -3.6 L-1 -3.4 L0.5 -1.6 L4 -2.2 L6.5 -1 L10.2 0.2 L9 1.9 L-8.6 2.1 Z" fill="#1a1f2a"/></g><circle cx="32.70" cy="38.90" r="30.90" fill="#f7f7f7" stroke="url(#silver)" stroke-width="2.20" /><circle cx="32.70" cy="38.90" r="29.40" fill="none" stroke="#2a2a2a" stroke-width="1.35" /><circle cx="32.70" cy="38.90" r="16.00" fill="#fbfbfb" stroke="#5a5a5a" stroke-width="0.80" /><path d="M8.34 55.71 L6.91 53.43 L9.04 53.68 Z" fill="#222" stroke="none" stroke-width="0.60" /><path d="M3.10 38.90 L3.22 36.22 L4.83 37.63 Z" fill="#222" stroke="none" stroke-width="0.60" /><text transform="translate(8.72 39.51) scale(0.0950 0.1000)" font-family="'DejaVu Sans', sans-serif" font-size="47.0" font-weight="bold" font-style="italic" text-anchor="middle" fill="#1c1c1c" >10</text><path d="M8.34 22.09 L9.96 19.95 L10.48 22.03 Z" fill="#222" stroke="none" stroke-width="0.60" /><text transform="translate(13.58 26.09) scale(0.0950 0.1000)" font-family="'DejaVu Sans', sans-serif" font-size="47.0" font-weight="bold" font-style="italic" text-anchor="middle" fill="#1c1c1c" >20</text><path d="M22.19 11.23 L24.74 10.39 L23.99 12.40 Z" fill="#222" stroke="none" stroke-width="0.60" /><text transform="translate(25.20 17.80) scale(0.0950 0.1000)" font-family="'DejaVu Sans', sans-serif" font-size="47.0" font-weight="bold" font-style="italic" text-anchor="middle" fill="#1c1c1c" >30</text><path d="M39.76 10.15 L42.34 10.91 L40.58 12.14 Z" fill="#222" stroke="none" stroke-width="0.60" /><text transform="translate(39.48 17.58) scale(0.0950 0.1000)" font-family="'DejaVu Sans', sans-serif" font-size="47.0" font-weight="bold" font-style="italic" text-anchor="middle" fill="#1c1c1c" >40</text><path d="M54.83 19.25 L56.52 21.33 L54.38 21.34 Z" fill="#222" stroke="none" stroke-width="0.60" /><text transform="translate(51.35 25.50) scale(0.0950 0.1000)" font-family="'DejaVu Sans', sans-serif" font-size="47.0" font-weight="bold" font-style="italic" text-anchor="middle" fill="#1c1c1c" >50</text><path d="M62.08 35.29 L62.29 37.97 L60.52 36.76 Z" fill="#222" stroke="none" stroke-width="0.60" /><text transform="translate(56.63 38.76) scale(0.0950 0.1000)" font-family="'DejaVu Sans', sans-serif" font-size="47.0" font-weight="bold" font-style="italic" text-anchor="middle" fill="#1c1c1c" >60</text><path d="M58.93 52.61 L57.58 54.93 L56.81 52.93 Z" fill="#222" stroke="none" stroke-width="0.60" /><text transform="translate(53.44 52.67) scale(0.0950 0.1000)" font-family="'DejaVu Sans', sans-serif" font-size="47.0" font-weight="bold" font-style="italic" text-anchor="middle" fill="#1c1c1c" >70</text><circle cx="110.60" cy="38.90" r="30.90" fill="#f7f7f7" stroke="url(#silver)" stroke-width="2.20" /><circle cx="110.60" cy="38.90" r="29.40" fill="none" stroke="#2a2a2a" stroke-width="1.35" /><path d="M140.06 40.44 A29.50 29.50 0 0 1 133.85 57.06" fill="none" stroke="#d8403a" stroke-width="1.30" /><path d="M141.63 42.16 A31.20 31.20 0 0 1 136.16 56.80" fill="none" stroke="#e07068" stroke-width="0.50" /><circle cx="110.60" cy="38.90" r="16.00" fill="#fbfbfb" stroke="#5a5a5a" stroke-width="0.80" /><path d="M85.80 55.06 L84.44 52.75 L86.56 53.06 Z" fill="#222" stroke="none" stroke-width="0.60" /><path d="M81.18 42.20 L81.01 39.52 L82.76 40.75 Z" fill="#222" stroke="none" stroke-width="0.60" /><text transform="translate(86.65 42.19) scale(0.0950 0.1000)" font-family="'DejaVu Sans', sans-serif" font-size="47.0" font-weight="bold" font-style="italic" text-anchor="middle" fill="#1c1c1c" >1</text><path d="M82.84 28.63 L83.88 26.16 L84.90 28.04 Z" fill="#222" stroke="none" stroke-width="0.60" /><text transform="translate(88.49 31.26) scale(0.0950 0.1000)" font-family="'DejaVu Sans', sans-serif" font-size="47.0" font-weight="bold" font-style="italic" text-anchor="middle" fill="#1c1c1c" >2</text><path d="M90.41 17.25 L92.46 15.51 L92.52 17.65 Z" fill="#222" stroke="none" stroke-width="0.60" /><text transform="translate(95.05 22.32) scale(0.0950 0.1000)" font-family="'DejaVu Sans', sans-serif" font-size="47.0" font-weight="bold" font-style="italic" text-anchor="middle" fill="#1c1c1c" >3</text><path d="M102.29 10.49 L104.90 9.85 L103.99 11.79 Z" fill="#222" stroke="none" stroke-width="0.60" /><text transform="translate(104.92 17.28) scale(0.0950 0.1000)" font-family="'DejaVu Sans', sans-serif" font-size="47.0" font-weight="bold" font-style="italic" text-anchor="middle" fill="#1c1c1c" >4</text><path d="M115.94 9.79 L118.56 10.39 L116.88 11.72 Z" fill="#222" stroke="none" stroke-width="0.60" /><text transform="translate(116.00 17.22) scale(0.0950 0.1000)" font-family="'DejaVu Sans', sans-serif" font-size="47.0" font-weight="bold" font-style="italic" text-anchor="middle" fill="#1c1c1c" >5</text><path d="M128.45 15.29 L130.52 17.01 L128.42 17.43 Z" fill="#222" stroke="none" stroke-width="0.60" /><text transform="translate(125.93 22.13) scale(0.0950 0.1000)" font-family="'DejaVu Sans', sans-serif" font-size="47.0" font-weight="bold" font-style="italic" text-anchor="middle" fill="#1c1c1c" >6</text><path d="M137.16 25.83 L138.23 28.29 L136.17 27.73 Z" fill="#222" stroke="none" stroke-width="0.60" /><text transform="translate(132.59 30.99) scale(0.0950 0.1000)" font-family="'DejaVu Sans', sans-serif" font-size="47.0" font-weight="bold" font-style="italic" text-anchor="middle" fill="#1c1c1c" >7</text><path d="M140.20 39.16 L140.05 41.84 L138.46 40.41 Z" fill="#222" stroke="none" stroke-width="0.60" /><text transform="translate(134.56 41.90) scale(0.0950 0.1000)" font-family="'DejaVu Sans', sans-serif" font-size="47.0" font-weight="bold" font-style="italic" text-anchor="middle" fill="#1c1c1c" >8</text><path d="M136.93 52.43 L135.59 54.76 L134.81 52.77 Z" fill="#222" stroke="none" stroke-width="0.60" /><text transform="translate(131.43 52.53) scale(0.0950 0.1000)" font-family="'DejaVu Sans', sans-serif" font-size="47.0" font-weight="bold" font-style="italic" text-anchor="middle" fill="#1c1c1c" >9</text><path d="M22.74 66.56 L20.65 65.72 L22.36 64.49 Z" fill="#222" stroke="none" stroke-width="0.60" /><path d="M26.79 67.70 L24.60 67.16 L26.12 65.70 Z" fill="#222" stroke="none" stroke-width="0.60" /><path d="M30.96 68.25 L28.71 68.03 L30.01 66.37 Z" fill="#222" stroke="none" stroke-width="0.60" /><path d="M35.16 68.20 L32.91 68.30 L33.95 66.47 Z" fill="#222" stroke="none" stroke-width="0.60" /><path d="M39.31 67.55 L37.10 67.97 L37.87 66.01 Z" fill="#222" stroke="none" stroke-width="0.60" /><path d="M43.33 66.31 L41.20 67.05 L41.69 65.00 Z" fill="#222" stroke="none" stroke-width="0.60" /><path d="M47.13 64.51 L45.12 65.55 L45.32 63.45 Z" fill="#222" stroke="none" stroke-width="0.60" /><path d="M50.64 62.19 L48.80 63.50 L48.69 61.40 Z" fill="#222" stroke="none" stroke-width="0.60" /><path d="M14.72 61.91 A29.2 29.2 0 0 0 20.36 65.36" fill="none" stroke="#e0443c" stroke-width="1.50" /><text transform="translate(19.20 61.20) scale(0.1000 0.1000)" font-family="'Liberation Sans', sans-serif" font-size="42.0" font-weight="bold" font-style="italic" text-anchor="middle" fill="#1c1c1c" >E</text><text transform="translate(50.20 60.80) scale(0.1000 0.1000)" font-family="'Liberation Sans', sans-serif" font-size="40.0" font-weight="bold" font-style="italic" text-anchor="middle" fill="#1c1c1c" >F</text><line x1="43.53" y1="53.53" x2="50.54" y2="63.02" stroke="#e0563c" stroke-width="0.90" /><g transform="translate(34.20 64.60) scale(0.900)"><rect x="-1.6" y="-2.2" width="3.2" height="4.4" fill="#111"/><rect x="-1" y="-1.6" width="2" height="1.3" fill="#fff" opacity=".45"/><path d="M-1.6 -1.2 L-2.8 -0.4 V1.6" fill="none" stroke="#111" stroke-width=".6"/></g><line x1="7.49" y1="54.41" x2="41.39" y2="33.56" stroke="#e8703c" stroke-width="1.20" stroke-linecap="round"/><circle cx="12.60" cy="51.27" r="1.25" fill="#c9602c" stroke="#a04a20" stroke-width="0.30" /><line x1="85.15" y1="54.01" x2="117.82" y2="34.61" stroke="#e8703c" stroke-width="1.20" stroke-linecap="round"/><circle cx="90.31" cy="50.95" r="1.25" fill="#c9602c" stroke="#a04a20" stroke-width="0.30" /><text transform="translate(34.20 47.60) scale(0.1000 0.1000)" font-family="'DejaVu Sans', sans-serif" font-size="46.0" font-weight="bold" font-style="italic" text-anchor="middle" fill="#1c1c1c" >mph</text><text transform="translate(111.00 47.40) scale(0.0950 0.1000)" font-family="'Liberation Sans', sans-serif" font-size="27.0" font-weight="bold" font-style="normal" text-anchor="middle" fill="#1c1c1c" >x1000r/min</text><text transform="translate(111.00 33.60) scale(0.0900 0.1000)" font-family="'Liberation Sans', sans-serif" font-size="28.0" font-weight="bold" font-style="normal" text-anchor="middle" fill="#1c1c1c" >LAUNCH MODE</text><text transform="translate(3.80 68.80) scale(0.1000 0.1000)" font-family="'Liberation Sans', sans-serif" font-size="23.0" font-weight="bold" font-style="normal" text-anchor="middle" fill="#6a6a6a" >SHIFT</text><text transform="translate(5.40 77.00) scale(0.1000 0.1000)" font-family="'DejaVu Sans', sans-serif" font-size="96.0" font-weight="bold" font-style="italic" text-anchor="middle" fill="#3fae2f" >N</text><text transform="translate(137.40 65.20) scale(0.0900 0.1000)" font-family="'Liberation Sans', sans-serif" font-size="24.0" font-weight="bold" font-style="normal" text-anchor="middle" fill="#6a6a6a" >OUTSIDE</text><text transform="translate(137.40 67.90) scale(0.0900 0.1000)" font-family="'Liberation Sans', sans-serif" font-size="24.0" font-weight="bold" font-style="normal" text-anchor="middle" fill="#6a6a6a" >WATER</text><text transform="translate(137.40 70.60) scale(0.0900 0.1000)" font-family="'Liberation Sans', sans-serif" font-size="24.0" font-weight="bold" font-style="normal" text-anchor="middle" fill="#6a6a6a" >TEMP</text><text transform="translate(138.00 75.20) scale(0.0720 0.1000)" font-family="'Liberation Sans', sans-serif" font-size="42.0" font-weight="bold" font-style="normal" text-anchor="middle" fill="#1c1c1c" >63.5°F</text><line x1="0.00" y1="78.10" x2="144.00" y2="78.10" stroke="#b4b4b4" stroke-width="0.55" /><line x1="56.00" y1="78.60" x2="56.00" y2="86.20" stroke="#b4b4b4" stroke-width="0.55" /><line x1="111.50" y1="78.60" x2="111.50" y2="86.20" stroke="#b4b4b4" stroke-width="0.55" /><text transform="translate(11.50 83.40) scale(0.1000 0.1000)" font-family="'Liberation Sans', sans-serif" font-size="26.0" font-weight="bold" font-style="normal" text-anchor="middle" fill="#6a6a6a" >TRIP</text><text transform="translate(36.00 84.80) scale(0.0780 0.1000)" font-family="'Liberation Sans', sans-serif" font-size="68.0" font-weight="bold" font-style="normal" text-anchor="middle" fill="#1c1c1c" >0.0</text><text transform="translate(47.20 84.00) scale(0.1000 0.1000)" font-family="'Liberation Sans', sans-serif" font-size="27.0" font-weight="bold" font-style="normal" text-anchor="middle" fill="#6a6a6a" >mile</text><text transform="translate(70.50 83.40) scale(0.0950 0.1000)" font-family="'Liberation Sans', sans-serif" font-size="26.0" font-weight="bold" font-style="normal" text-anchor="middle" fill="#6a6a6a" >OIL TEMP</text><text transform="translate(91.00 84.80) scale(0.0780 0.1000)" font-family="'Liberation Sans', sans-serif" font-size="68.0" font-weight="bold" font-style="normal" text-anchor="middle" fill="#1c1c1c" >240</text><text transform="translate(100.20 83.60) scale(0.1000 0.1000)" font-family="'Liberation Sans', sans-serif" font-size="32.0" font-weight="bold" font-style="normal" text-anchor="middle" fill="#1c1c1c" >°F</text><text transform="translate(129.80 84.80) scale(0.0780 0.1000)" font-family="'Liberation Sans', sans-serif" font-size="68.0" font-weight="bold" font-style="normal" text-anchor="middle" fill="#1c1c1c" >1:00</text></g></g></g>
<g transform="translate(20.50 580.20)" filter="url(#shadow)"><use href="#dev"/><g transform="translate(31.4 28.8)"><g clip-path="url(#scrclip)"><rect x="0.00" y="0.00" width="144.00" height="86.20" fill="#050505" /><text transform="translate(5.00 3.80) scale(0.0950 0.1000)" font-family="'Liberation Sans', sans-serif" font-size="27.0" font-weight="bold" font-style="normal" text-anchor="middle" fill="#b0b0b0" >APP</text><path d="M3.40 5.70 q1.6 -1.3 3.2 0" fill="none" stroke="#b0b0b0" stroke-width="0.55" /><path d="M4.10 6.60 q0.9 -0.8 1.8 0" fill="none" stroke="#b0b0b0" stroke-width="0.55" /><circle cx="5.00" cy="7.30" r="0.35" fill="#b0b0b0" stroke="none" stroke-width="0.60" /><path d="M62.5 21.5 H81.5 M62.5 38.8 H81.5 M62.5 45.8 H81.5 M62.5 55 H81.5" fill="none" stroke="#585858" stroke-width="0.55" /><circle cx="77.90" cy="10.50" r="0.45" fill="#999" stroke="none" stroke-width="0.60" /><circle cx="77.04" cy="13.70" r="0.45" fill="#999" stroke="none" stroke-width="0.60" /><circle cx="74.70" cy="16.04" r="0.45" fill="#999" stroke="none" stroke-width="0.60" /><circle cx="71.50" cy="16.90" r="0.45" fill="#999" stroke="none" stroke-width="0.60" /><circle cx="68.30" cy="16.04" r="0.45" fill="#999" stroke="none" stroke-width="0.60" /><circle cx="65.96" cy="13.70" r="0.45" fill="#999" stroke="none" stroke-width="0.60" /><circle cx="65.10" cy="10.50" r="0.45" fill="#999" stroke="none" stroke-width="0.60" /><circle cx="65.96" cy="7.30" r="0.45" fill="#999" stroke="none" stroke-width="0.60" /><circle cx="68.30" cy="4.96" r="0.45" fill="#999" stroke="none" stroke-width="0.60" /><circle cx="71.50" cy="4.10" r="0.45" fill="#999" stroke="none" stroke-width="0.60" /><circle cx="74.70" cy="4.96" r="0.45" fill="#999" stroke="none" stroke-width="0.60" /><circle cx="77.04" cy="7.30" r="0.45" fill="#999" stroke="none" stroke-width="0.60" /><line x1="75.02" y1="10.50" x2="78.22" y2="10.50" stroke="#999" stroke-width="0.50" /><line x1="71.50" y1="14.02" x2="71.50" y2="17.22" stroke="#999" stroke-width="0.50" /><line x1="67.98" y1="10.50" x2="64.78" y2="10.50" stroke="#999" stroke-width="0.50" /><line x1="71.50" y1="6.98" x2="71.50" y2="3.78" stroke="#c33" stroke-width="0.50" /><line x1="68.30" y1="10.50" x2="74.70" y2="10.50" stroke="#49b035" stroke-width="0.80" /><line x1="71.50" y1="7.30" x2="71.50" y2="13.70" stroke="#49b035" stroke-width="0.80" /><circle cx="71.50" cy="10.50" r="1.00" fill="#7fdc6a" stroke="none" stroke-width="0.60" /><text transform="translate(71.90 26.00) scale(0.0950 0.1000)" font-family="'Liberation Sans', sans-serif" font-size="27.0" font-weight="bold" font-style="normal" text-anchor="middle" fill="#8e8e8e" >POWER</text><text transform="translate(71.90 29.10) scale(0.0950 0.1000)" font-family="'Liberation Sans', sans-serif" font-size="27.0" font-weight="bold" font-style="normal" text-anchor="middle" fill="#8e8e8e" >MODE</text><text transform="translate(69.00 36.00) scale(0.1000 0.1000)" font-family="'Liberation Sans', sans-serif" font-size="66.0" font-weight="bold" font-style="italic" text-anchor="middle" fill="#ffffff" >F</text><text transform="translate(74.60 36.00) scale(0.1000 0.1000)" font-family="'Liberation Sans', sans-serif" font-size="40.0" font-weight="bold" font-style="italic" text-anchor="middle" fill="#ffffff" >PO</text><text transform="translate(71.90 43.30) scale(0.1000 0.1000)" font-family="'Liberation Sans', sans-serif" font-size="27.0" font-weight="bold" font-style="normal" text-anchor="middle" fill="#8e8e8e" >DRIVE</text><text transform="translate(71.90 52.30) scale(0.0680 0.1000)" font-family="'Liberation Sans', sans-serif" font-size="44.0" font-weight="bold" font-style="normal" text-anchor="middle" fill="#ffffff" >NORMAL</text><path d="M9.5 77.4 H111.5" fill="none" stroke="#3f7a38" stroke-width="0.80" /><path d="M62.4 77.2 V58.6 Q62.4 56.6 64.4 56.6" fill="none" stroke="#3f7a38" stroke-width="0.80" /><path d="M64.4 56.6 H82" fill="none" stroke="#585858" stroke-width="0.55" /><path d="M65.0 58.6 Q63.0 66.5 65.0 75.2" fill="none" stroke="#bbb" stroke-width="0.60" stroke-dasharray="1 .5"/><line x1="62.60" y1="66.90" x2="65.80" y2="66.90" stroke="#8fe070" stroke-width="1.00" /><text transform="translate(68.20 60.60) scale(0.1000 0.1000)" font-family="'Liberation Sans', sans-serif" font-size="23.0" font-weight="bold" font-style="normal" text-anchor="middle" fill="#ffffff" >UP</text><text transform="translate(76.40 60.60) scale(0.1000 0.1000)" font-family="'Liberation Sans', sans-serif" font-size="23.0" font-weight="bold" font-style="normal" text-anchor="middle" fill="#8e8e8e" >TRIM</text><text transform="translate(68.80 75.60) scale(0.1000 0.1000)" font-family="'Liberation Sans', sans-serif" font-size="22.0" font-weight="bold" font-style="normal" text-anchor="middle" fill="#ffffff" >DOWN</text><g transform="translate(75.20 65.60) scale(0.820)"><ellipse cx="0" cy="3.2" rx="10.5" ry="3.2" fill="url(#waterD)"/><path d="M-10 1.2 L-8.5 -0.6 L-4.5 -1.4 L-2.6 -3.6 L-1 -3.4 L0.5 -1.6 L4 -2.2 L6.5 -1 L10.2 0.2 L9 1.9 L-8.6 2.1 Z" fill="#f4f4f4"/></g><circle cx="32.70" cy="38.90" r="31.00" fill="#070707" stroke="#7b7b7b" stroke-width="1.50" /><circle cx="32.70" cy="38.90" r="29.50" fill="none" stroke="#d4d4d4" stroke-width="0.50" /><circle cx="32.70" cy="38.90" r="16.00" fill="#040404" stroke="#5e5e5e" stroke-width="0.80" /><circle cx="7.85" cy="54.43" r="0.80" fill="#f0f0f0" stroke="none" stroke-width="0.60" /><circle cx="3.43" cy="37.57" r="0.80" fill="#f0f0f0" stroke="none" stroke-width="0.60" /><text transform="translate(8.72 39.51) scale(0.0950 0.1000)" font-family="'DejaVu Sans', sans-serif" font-size="47.0" font-weight="bold" font-style="italic" text-anchor="middle" fill="#ffffff" >10</text><circle cx="9.36" cy="21.19" r="0.80" fill="#f0f0f0" stroke="none" stroke-width="0.60" /><text transform="translate(13.58 26.09) scale(0.0950 0.1000)" font-family="'DejaVu Sans', sans-serif" font-size="47.0" font-weight="bold" font-style="italic" text-anchor="middle" fill="#ffffff" >20</text><circle cx="23.55" cy="11.07" r="0.80" fill="#f0f0f0" stroke="none" stroke-width="0.60" /><text transform="translate(25.20 17.80) scale(0.0950 0.1000)" font-family="'DejaVu Sans', sans-serif" font-size="47.0" font-weight="bold" font-style="italic" text-anchor="middle" fill="#ffffff" >30</text><circle cx="40.97" cy="10.79" r="0.80" fill="#f0f0f0" stroke="none" stroke-width="0.60" /><text transform="translate(39.48 17.58) scale(0.0950 0.1000)" font-family="'DejaVu Sans', sans-serif" font-size="47.0" font-weight="bold" font-style="italic" text-anchor="middle" fill="#ffffff" >40</text><circle cx="55.47" cy="20.46" r="0.80" fill="#f0f0f0" stroke="none" stroke-width="0.60" /><text transform="translate(51.35 25.50) scale(0.0950 0.1000)" font-family="'DejaVu Sans', sans-serif" font-size="47.0" font-weight="bold" font-style="italic" text-anchor="middle" fill="#ffffff" >50</text><circle cx="61.91" cy="36.65" r="0.80" fill="#f0f0f0" stroke="none" stroke-width="0.60" /><text transform="translate(56.63 38.76) scale(0.0950 0.1000)" font-family="'DejaVu Sans', sans-serif" font-size="47.0" font-weight="bold" font-style="italic" text-anchor="middle" fill="#ffffff" >60</text><circle cx="58.02" cy="53.64" r="0.80" fill="#f0f0f0" stroke="none" stroke-width="0.60" /><text transform="translate(53.44 52.67) scale(0.0950 0.1000)" font-family="'DejaVu Sans', sans-serif" font-size="47.0" font-weight="bold" font-style="italic" text-anchor="middle" fill="#ffffff" >70</text><circle cx="110.60" cy="38.90" r="31.00" fill="#070707" stroke="#7b7b7b" stroke-width="1.50" /><circle cx="110.60" cy="38.90" r="29.50" fill="none" stroke="#d4d4d4" stroke-width="0.50" /><path d="M140.76 40.48 A30.20 30.20 0 0 1 134.40 57.49" fill="none" stroke="#7a2226" stroke-width="1.20" /><circle cx="110.60" cy="38.90" r="16.00" fill="#040404" stroke="#5e5e5e" stroke-width="0.80" /><circle cx="85.35" cy="53.77" r="0.80" fill="#f0f0f0" stroke="none" stroke-width="0.60" /><circle cx="81.36" cy="40.84" r="0.80" fill="#f0f0f0" stroke="none" stroke-width="0.60" /><text transform="translate(86.65 42.19) scale(0.0950 0.1000)" font-family="'DejaVu Sans', sans-serif" font-size="47.0" font-weight="bold" font-style="italic" text-anchor="middle" fill="#ffffff" >1</text><circle cx="83.61" cy="27.50" r="0.80" fill="#f0f0f0" stroke="none" stroke-width="0.60" /><text transform="translate(88.49 31.26) scale(0.0950 0.1000)" font-family="'DejaVu Sans', sans-serif" font-size="47.0" font-weight="bold" font-style="italic" text-anchor="middle" fill="#ffffff" >2</text><circle cx="91.61" cy="16.59" r="0.80" fill="#f0f0f0" stroke="none" stroke-width="0.60" /><text transform="translate(95.05 22.32) scale(0.0950 0.1000)" font-family="'DejaVu Sans', sans-serif" font-size="47.0" font-weight="bold" font-style="italic" text-anchor="middle" fill="#ffffff" >3</text><circle cx="103.66" cy="10.43" r="0.80" fill="#f0f0f0" stroke="none" stroke-width="0.60" /><text transform="translate(104.92 17.28) scale(0.0950 0.1000)" font-family="'DejaVu Sans', sans-serif" font-size="47.0" font-weight="bold" font-style="italic" text-anchor="middle" fill="#ffffff" >4</text><circle cx="117.19" cy="10.35" r="0.80" fill="#f0f0f0" stroke="none" stroke-width="0.60" /><text transform="translate(116.00 17.22) scale(0.0950 0.1000)" font-family="'DejaVu Sans', sans-serif" font-size="47.0" font-weight="bold" font-style="italic" text-anchor="middle" fill="#ffffff" >5</text><circle cx="129.32" cy="16.36" r="0.80" fill="#f0f0f0" stroke="none" stroke-width="0.60" /><text transform="translate(125.93 22.13) scale(0.0950 0.1000)" font-family="'DejaVu Sans', sans-serif" font-size="47.0" font-weight="bold" font-style="italic" text-anchor="middle" fill="#ffffff" >6</text><circle cx="137.45" cy="27.17" r="0.80" fill="#f0f0f0" stroke="none" stroke-width="0.60" /><text transform="translate(132.59 30.99) scale(0.0950 0.1000)" font-family="'DejaVu Sans', sans-serif" font-size="47.0" font-weight="bold" font-style="italic" text-anchor="middle" fill="#ffffff" >7</text><circle cx="139.86" cy="40.48" r="0.80" fill="#f0f0f0" stroke="none" stroke-width="0.60" /><text transform="translate(134.56 41.90) scale(0.0950 0.1000)" font-family="'DejaVu Sans', sans-serif" font-size="47.0" font-weight="bold" font-style="italic" text-anchor="middle" fill="#ffffff" >8</text><circle cx="136.03" cy="53.46" r="0.80" fill="#f0f0f0" stroke="none" stroke-width="0.60" /><text transform="translate(131.43 52.53) scale(0.0950 0.1000)" font-family="'DejaVu Sans', sans-serif" font-size="47.0" font-weight="bold" font-style="italic" text-anchor="middle" fill="#ffffff" >9</text><circle cx="21.99" cy="65.42" r="0.60" fill="#eee" stroke="none" stroke-width="0.60" /><circle cx="25.88" cy="66.67" r="0.60" fill="#eee" stroke="none" stroke-width="0.60" /><circle cx="29.91" cy="67.36" r="0.60" fill="#eee" stroke="none" stroke-width="0.60" /><circle cx="34.00" cy="67.47" r="0.60" fill="#eee" stroke="none" stroke-width="0.60" /><circle cx="38.06" cy="66.99" r="0.60" fill="#eee" stroke="none" stroke-width="0.60" /><circle cx="42.01" cy="65.94" r="0.60" fill="#eee" stroke="none" stroke-width="0.60" /><circle cx="45.77" cy="64.34" r="0.60" fill="#eee" stroke="none" stroke-width="0.60" /><circle cx="49.27" cy="62.21" r="0.60" fill="#eee" stroke="none" stroke-width="0.60" /><path d="M14.72 61.91 A29.2 29.2 0 0 0 20.36 65.36" fill="none" stroke="#a52a2a" stroke-width="1.50" /><text transform="translate(19.20 61.20) scale(0.1000 0.1000)" font-family="'Liberation Sans', sans-serif" font-size="42.0" font-weight="bold" font-style="italic" text-anchor="middle" fill="#ffffff" >E</text><text transform="translate(50.20 60.80) scale(0.1000 0.1000)" font-family="'Liberation Sans', sans-serif" font-size="40.0" font-weight="bold" font-style="italic" text-anchor="middle" fill="#ffffff" >F</text><line x1="43.53" y1="53.53" x2="50.54" y2="63.02" stroke="#c8453a" stroke-width="0.90" /><g transform="translate(34.20 64.60) scale(0.900)"><rect x="-1.6" y="-2.2" width="3.2" height="4.4" fill="#ffffff"/><rect x="-1" y="-1.6" width="2" height="1.3" fill="#000" opacity=".45"/><path d="M-1.6 -1.2 L-2.8 -0.4 V1.6" fill="none" stroke="#ffffff" stroke-width=".6"/></g><line x1="7.49" y1="54.41" x2="41.39" y2="33.56" stroke="#c8453a" stroke-width="1.25" stroke-linecap="round"/><line x1="7.49" y1="54.41" x2="41.39" y2="33.56" stroke="#f2b9ac" stroke-width="0.40" /><circle cx="12.60" cy="51.27" r="1.25" fill="#f4f4f4" stroke="#b44" stroke-width="0.30" /><line x1="85.15" y1="54.01" x2="117.82" y2="34.61" stroke="#c8453a" stroke-width="1.25" stroke-linecap="round"/><line x1="85.15" y1="54.01" x2="117.82" y2="34.61" stroke="#f2b9ac" stroke-width="0.40" /><circle cx="90.31" cy="50.95" r="1.25" fill="#f4f4f4" stroke="#b44" stroke-width="0.30" /><text transform="translate(34.20 47.60) scale(0.1000 0.1000)" font-family="'DejaVu Sans', sans-serif" font-size="46.0" font-weight="bold" font-style="italic" text-anchor="middle" fill="#ffffff" >mph</text><text transform="translate(111.00 47.40) scale(0.0950 0.1000)" font-family="'Liberation Sans', sans-serif" font-size="27.0" font-weight="bold" font-style="normal" text-anchor="middle" fill="#ffffff" >x1000r/min</text><text transform="translate(3.80 68.80) scale(0.1000 0.1000)" font-family="'Liberation Sans', sans-serif" font-size="23.0" font-weight="bold" font-style="normal" text-anchor="middle" fill="#8e8e8e" >SHIFT</text><text transform="translate(5.40 77.00) scale(0.1000 0.1000)" font-family="'DejaVu Sans', sans-serif" font-size="96.0" font-weight="bold" font-style="italic" text-anchor="middle" fill="#3fae2f" >N</text><text transform="translate(137.40 65.20) scale(0.0900 0.1000)" font-family="'Liberation Sans', sans-serif" font-size="24.0" font-weight="bold" font-style="normal" text-anchor="middle" fill="#8e8e8e" >OUTSIDE</text><text transform="translate(137.40 67.90) scale(0.0900 0.1000)" font-family="'Liberation Sans', sans-serif" font-size="24.0" font-weight="bold" font-style="normal" text-anchor="middle" fill="#8e8e8e" >WATER</text><text transform="translate(137.40 70.60) scale(0.0900 0.1000)" font-family="'Liberation Sans', sans-serif" font-size="24.0" font-weight="bold" font-style="normal" text-anchor="middle" fill="#8e8e8e" >TEMP</text><text transform="translate(138.00 75.20) scale(0.0720 0.1000)" font-family="'Liberation Sans', sans-serif" font-size="42.0" font-weight="bold" font-style="normal" text-anchor="middle" fill="#ffffff" >63.5°F</text><line x1="0.00" y1="78.10" x2="144.00" y2="78.10" stroke="#585858" stroke-width="0.55" /><line x1="56.00" y1="78.60" x2="56.00" y2="86.20" stroke="#585858" stroke-width="0.55" /><line x1="111.50" y1="78.60" x2="111.50" y2="86.20" stroke="#585858" stroke-width="0.55" /><text transform="translate(11.50 83.40) scale(0.1000 0.1000)" font-family="'Liberation Sans', sans-serif" font-size="26.0" font-weight="bold" font-style="normal" text-anchor="middle" fill="#8e8e8e" >TRIP</text><text transform="translate(36.00 84.80) scale(0.0780 0.1000)" font-family="'Liberation Sans', sans-serif" font-size="68.0" font-weight="bold" font-style="normal" text-anchor="middle" fill="#ffffff" >0.0</text><text transform="translate(47.20 84.00) scale(0.1000 0.1000)" font-family="'Liberation Sans', sans-serif" font-size="27.0" font-weight="bold" font-style="normal" text-anchor="middle" fill="#8e8e8e" >mile</text><text transform="translate(70.50 83.40) scale(0.0950 0.1000)" font-family="'Liberation Sans', sans-serif" font-size="26.0" font-weight="bold" font-style="normal" text-anchor="middle" fill="#8e8e8e" >OIL TEMP</text><text transform="translate(91.00 84.80) scale(0.0780 0.1000)" font-family="'Liberation Sans', sans-serif" font-size="68.0" font-weight="bold" font-style="normal" text-anchor="middle" fill="#ffffff" >240</text><text transform="translate(100.20 83.60) scale(0.1000 0.1000)" font-family="'Liberation Sans', sans-serif" font-size="32.0" font-weight="bold" font-style="normal" text-anchor="middle" fill="#ffffff" >°F</text><text transform="translate(129.80 84.80) scale(0.0780 0.1000)" font-family="'Liberation Sans', sans-serif" font-size="68.0" font-weight="bold" font-style="normal" text-anchor="middle" fill="#ffffff" >1:00</text></g></g></g>
<g transform="translate(781.20 685.50)"><use href="#dev"/><g transform="translate(31.4 28.8)"><g clip-path="url(#scrclip)"><rect x="0.00" y="0.00" width="144.00" height="86.20" fill="#f6f6f6" /><rect x="0.00" y="0.00" width="144.00" height="86.20" fill="url(#lightscr)" /><rect x="127.40" y="10.50" width="16.60" height="75.00" fill="#e2e2e2" /><g filter="url(#soft)"><path d="M27.00 67.25 L34.50 63.50 L35.25 69.50 L32.25 76.25 L21.75 81.50 L8.25 84.12 L-0.75 84.50 L-0.75 75.50 Z" fill="#8a8a8a" stroke="none" stroke-width="0.60" opacity=".5"/><path d="M-0.75 25.40 L9.00 26.75 L13.65 32.90 L19.50 38.00 L21.15 45.50 L27.00 48.50 L33.90 57.50 L33.30 62.38 L28.50 67.40 L-0.75 67.40 Z" fill="url(#skiL)" stroke="none" stroke-width="0.60" /><path d="M-0.75 67.10 L19.50 67.25 L28.50 65.90 L33.45 60.50 L33.75 63.50 L27.00 75.50 L15.75 81.50 L-0.75 83.15 Z" fill="#131a19" stroke="none" stroke-width="0.60" /><path d="M-0.75 24.35 L10.50 24.35 L21.00 25.10 L21.15 26.75 L10.50 27.50 L-0.75 27.65 Z" fill="#1b2221" stroke="none" stroke-width="0.60" /><path d="M14.40 30.65 L23.25 30.35 L24.90 32.15 L22.50 34.40 L16.50 34.70 L13.80 32.90 Z" fill="#161b1a" stroke="none" stroke-width="0.60" /><path d="M1.50 29.75 L4.20 29.75 L5.85 37.25 L7.50 30.50 L9.75 30.50 L7.20 40.25 L4.35 40.25 Z" fill="#202827" stroke="none" stroke-width="0.60" opacity=".6"/><path d="M19.50 40.25 L21.75 46.25 L27.00 49.25 L30.00 54.50 L21.75 57.50 L18.75 50.75 Z" fill="#43524f" stroke="none" stroke-width="0.60" opacity=".8"/><path d="M0.00 41.75 L10.12 39.35 L12.38 44.00 L6.00 48.50 L0.00 47.00 Z" fill="#e2ebe9" stroke="none" stroke-width="0.60" opacity=".85"/><path d="M12.00 57.50 L16.65 44.75 L18.45 45.35 L14.85 57.95 Z" fill="#c8d4d1" stroke="none" stroke-width="0.60" opacity=".8"/><path d="M4.12 60.50 L15.75 57.88 L25.65 54.35 L26.85 56.00 L16.50 60.50 L4.50 62.90 Z" fill="#e6eeec" stroke="none" stroke-width="0.60" opacity=".9"/></g><rect x="0.00" y="0.00" width="144.00" height="10.50" fill="#363836" /><line x1="32.50" y1="0.50" x2="32.50" y2="10.20" stroke="#9fbf98" stroke-width="0.70" /><line x1="71.50" y1="0.50" x2="71.50" y2="10.20" stroke="#9fbf98" stroke-width="0.70" /><line x1="101.50" y1="0.50" x2="101.50" y2="10.20" stroke="#9fbf98" stroke-width="0.70" /><text transform="translate(8.50 6.20) scale(0.1000 0.1000)" font-family="'Liberation Sans', sans-serif" font-size="27.0" font-weight="bold" font-style="normal" text-anchor="middle" fill="#9c9c9c" >SHIFT</text><text transform="translate(20.90 9.40) scale(0.1000 0.1000)" font-family="'DejaVu Sans', sans-serif" font-size="116.0" font-weight="bold" font-style="italic" text-anchor="middle" fill="#3fae2f" >N</text><text transform="translate(40.30 6.20) scale(0.1000 0.1000)" font-family="'Liberation Sans', sans-serif" font-size="27.0" font-weight="bold" font-style="normal" text-anchor="middle" fill="#9c9c9c" >DRIVE</text><text transform="translate(60.20 7.10) scale(0.0730 0.1000)" font-family="'Liberation Sans', sans-serif" font-size="53.0" font-weight="bold" font-style="normal" text-anchor="middle" fill="#fff" >NORMAL</text><text transform="translate(78.50 3.50) scale(0.0900 0.1000)" font-family="'Liberation Sans', sans-serif" font-size="24.0" font-weight="bold" font-style="normal" text-anchor="middle" fill="#9c9c9c" >OUTSIDE</text><text transform="translate(78.50 6.10) scale(0.0900 0.1000)" font-family="'Liberation Sans', sans-serif" font-size="24.0" font-weight="bold" font-style="normal" text-anchor="middle" fill="#9c9c9c" >WATER</text><text transform="translate(78.50 8.70) scale(0.0900 0.1000)" font-family="'Liberation Sans', sans-serif" font-size="24.0" font-weight="bold" font-style="normal" text-anchor="middle" fill="#9c9c9c" >TEMP</text><text transform="translate(92.40 7.00) scale(0.0720 0.1000)" font-family="'Liberation Sans', sans-serif" font-size="50.0" font-weight="bold" font-style="normal" text-anchor="middle" fill="#e4e4e4" >63.5°F</text><text transform="translate(110.00 4.60) scale(0.0950 0.1000)" font-family="'Liberation Sans', sans-serif" font-size="27.0" font-weight="bold" font-style="normal" text-anchor="middle" fill="#9c9c9c" >POWER</text><text transform="translate(110.00 7.70) scale(0.0950 0.1000)" font-family="'Liberation Sans', sans-serif" font-size="27.0" font-weight="bold" font-style="normal" text-anchor="middle" fill="#9c9c9c" >MODE</text><text transform="translate(125.00 7.40) scale(0.1000 0.1000)" font-family="'Liberation Sans', sans-serif" font-size="66.0" font-weight="bold" font-style="italic" text-anchor="middle" fill="#fff" >F</text><text transform="translate(130.60 7.40) scale(0.1000 0.1000)" font-family="'Liberation Sans', sans-serif" font-size="42.0" font-weight="bold" font-style="italic" text-anchor="middle" fill="#fff" >PO</text><text transform="translate(53.20 14.40) scale(0.1000 0.1000)" font-family="'Liberation Sans', sans-serif" font-size="26.0" font-weight="bold" font-style="normal" text-anchor="middle" fill="#1c1c1c" >TRIM</text><path d="M59.8 11.3 Q56.6 20.7 59.8 30.2" fill="none" stroke="#333" stroke-width="0.80" stroke-dasharray="1.2 .5"/><line x1="57.00" y1="20.70" x2="61.00" y2="20.70" stroke="#49b035" stroke-width="1.00" /><text transform="translate(62.80 14.40) scale(0.1000 0.1000)" font-family="'Liberation Sans', sans-serif" font-size="22.0" font-weight="bold" font-style="normal" text-anchor="middle" fill="#1c1c1c" >UP</text><text transform="translate(63.80 28.60) scale(0.1000 0.1000)" font-family="'Liberation Sans', sans-serif" font-size="22.0" font-weight="bold" font-style="normal" text-anchor="middle" fill="#1c1c1c" >DOWN</text><g transform="translate(73.80 19.20) scale(0.970)"><ellipse cx="0" cy="3.2" rx="10.5" ry="3.2" fill="url(#waterL)"/><path d="M-10 1.2 L-8.5 -0.6 L-4.5 -1.4 L-2.6 -3.6 L-1 -3.4 L0.5 -1.6 L4 -2.2 L6.5 -1 L10.2 0.2 L9 1.9 L-8.6 2.1 Z" fill="#1a1f2a"/></g><circle cx="99.40" cy="19.30" r="0.45" fill="#888" stroke="none" stroke-width="0.60" /><circle cx="98.48" cy="22.75" r="0.45" fill="#888" stroke="none" stroke-width="0.60" /><circle cx="95.95" cy="25.28" r="0.45" fill="#888" stroke="none" stroke-width="0.60" /><circle cx="92.50" cy="26.20" r="0.45" fill="#888" stroke="none" stroke-width="0.60" /><circle cx="89.05" cy="25.28" r="0.45" fill="#888" stroke="none" stroke-width="0.60" /><circle cx="86.52" cy="22.75" r="0.45" fill="#888" stroke="none" stroke-width="0.60" /><circle cx="85.60" cy="19.30" r="0.45" fill="#888" stroke="none" stroke-width="0.60" /><circle cx="86.52" cy="15.85" r="0.45" fill="#888" stroke="none" stroke-width="0.60" /><circle cx="89.05" cy="13.32" r="0.45" fill="#888" stroke="none" stroke-width="0.60" /><circle cx="92.50" cy="12.40" r="0.45" fill="#888" stroke="none" stroke-width="0.60" /><circle cx="95.95" cy="13.32" r="0.45" fill="#888" stroke="none" stroke-width="0.60" /><circle cx="98.48" cy="15.85" r="0.45" fill="#888" stroke="none" stroke-width="0.60" /><line x1="96.30" y1="19.30" x2="99.75" y2="19.30" stroke="#888" stroke-width="0.50" /><line x1="92.50" y1="23.10" x2="92.50" y2="26.55" stroke="#888" stroke-width="0.50" /><line x1="88.70" y1="19.30" x2="85.25" y2="19.30" stroke="#888" stroke-width="0.50" /><line x1="92.50" y1="15.51" x2="92.50" y2="12.05" stroke="#c33" stroke-width="0.50" /><line x1="89.05" y1="19.30" x2="95.95" y2="19.30" stroke="#49b035" stroke-width="0.80" /><line x1="92.50" y1="15.85" x2="92.50" y2="22.75" stroke="#49b035" stroke-width="0.80" /><circle cx="92.50" cy="19.30" r="1.00" fill="#7fdc6a" stroke="none" stroke-width="0.60" /><text transform="translate(104.10 65.30) skewX(4.0) scale(0.1330 0.1000)" font-family="'Liberation Sans', sans-serif" font-size="474.0" font-weight="bold" font-style="italic" text-anchor="middle" fill="#1c1c1c" stroke="#1c1c1c" stroke-width="6.0" stroke-linejoin="round">0</text><text transform="translate(114.80 73.40) scale(0.1000 0.1000)" font-family="'DejaVu Sans', sans-serif" font-size="82.0" font-weight="bold" font-style="italic" text-anchor="middle" fill="#1c1c1c" >mph</text><path d="M127 10.5 V69 L136 78.5" fill="none" stroke="#6cbf58" stroke-width="0.90" /><text transform="translate(132.80 13.60) scale(0.0950 0.1000)" font-family="'Liberation Sans', sans-serif" font-size="27.0" font-weight="bold" font-style="normal" text-anchor="middle" fill="#333" >APP</text><path d="M131.20 15.50 q1.6 -1.3 3.2 0" fill="none" stroke="#333" stroke-width="0.55" /><path d="M131.90 16.40 q0.9 -0.8 1.8 0" fill="none" stroke="#333" stroke-width="0.55" /><circle cx="132.80" cy="17.10" r="0.35" fill="#333" stroke="none" stroke-width="0.60" /><line x1="128.50" y1="23.20" x2="143.50" y2="23.20" stroke="#aaa" stroke-width="0.45" /><g transform="translate(135.20 28.60) scale(1.100)"><rect x="-1.6" y="-2.2" width="3.2" height="4.4" fill="#111"/><rect x="-1" y="-1.6" width="2" height="1.3" fill="#fff" opacity=".45"/><path d="M-1.6 -1.2 L-2.8 -0.4 V1.6" fill="none" stroke="#111" stroke-width=".6"/></g><g clip-path="url(#fuelclip)"><rect x="128.20" y="32.60" width="9.60" height="42.00" fill="#b0b0b0" /><rect x="128.80" y="33.00" width="8.60" height="4.20" fill="#161616" rx="0.7"/><rect x="128.80" y="38.15" width="8.60" height="4.20" fill="#161616" rx="0.7"/><rect x="128.80" y="43.30" width="8.60" height="4.20" fill="#161616" rx="0.7"/><rect x="128.80" y="48.45" width="8.60" height="4.20" fill="#161616" rx="0.7"/><rect x="128.80" y="53.60" width="8.60" height="4.20" fill="#161616" rx="0.7"/><rect x="128.80" y="58.75" width="8.60" height="4.20" fill="#161616" rx="0.7"/><rect x="128.80" y="63.90" width="8.60" height="4.20" fill="#161616" rx="0.7"/><rect x="128.80" y="69.05" width="8.60" height="4.20" fill="#161616" rx="0.7"/></g><line x1="138.80" y1="33.00" x2="138.80" y2="74.00" stroke="#333" stroke-width="0.45" /><text transform="translate(141.30 37.00) scale(0.0850 0.1000)" font-family="'Liberation Sans', sans-serif" font-size="52.0" font-weight="bold" font-style="normal" text-anchor="middle" fill="#1c1c1c" >F</text><text transform="translate(141.30 73.60) scale(0.0850 0.1000)" font-family="'Liberation Sans', sans-serif" font-size="52.0" font-weight="bold" font-style="normal" text-anchor="middle" fill="#1c1c1c" >E</text><path d="M35.2 86.2 L43.6 78.5 H144 V86.2 Z" fill="#343534" stroke="none" stroke-width="0.60" /><path d="M34.8 86.4 L43.4 78.4 H60" fill="none" stroke="#49b035" stroke-width="0.90" /><line x1="83.50" y1="79.00" x2="83.50" y2="86.20" stroke="#999" stroke-width="0.60" /><line x1="125.50" y1="79.00" x2="125.50" y2="86.20" stroke="#999" stroke-width="0.60" /><text transform="translate(49.50 83.70) scale(0.1000 0.1000)" font-family="'Liberation Sans', sans-serif" font-size="26.0" font-weight="bold" font-style="normal" text-anchor="middle" fill="#9c9c9c" >TRIP</text><text transform="translate(71.20 84.80) scale(0.0780 0.1000)" font-family="'Liberation Sans', sans-serif" font-size="62.0" font-weight="bold" font-style="normal" text-anchor="middle" fill="#eee" >0.0</text><text transform="translate(79.80 84.30) scale(0.1000 0.1000)" font-family="'Liberation Sans', sans-serif" font-size="26.0" font-weight="bold" font-style="normal" text-anchor="middle" fill="#9c9c9c" >mile</text><text transform="translate(96.00 83.70) scale(0.0950 0.1000)" font-family="'Liberation Sans', sans-serif" font-size="26.0" font-weight="bold" font-style="normal" text-anchor="middle" fill="#9c9c9c" >OIL TEMP</text><text transform="translate(112.00 84.80) scale(0.0780 0.1000)" font-family="'Liberation Sans', sans-serif" font-size="62.0" font-weight="bold" font-style="normal" text-anchor="middle" fill="#eee" >240</text><text transform="translate(121.50 84.00) scale(0.1000 0.1000)" font-family="'Liberation Sans', sans-serif" font-size="30.0" font-weight="bold" font-style="normal" text-anchor="middle" fill="#ddd" >°F</text><text transform="translate(136.80 84.80) scale(0.0780 0.1000)" font-family="'Liberation Sans', sans-serif" font-size="62.0" font-weight="bold" font-style="normal" text-anchor="middle" fill="#eee" >1:00</text></g></g></g>
<g transform="translate(616.40 580.20)" filter="url(#shadow)"><use href="#dev"/><g transform="translate(31.4 28.8)"><g clip-path="url(#scrclip)"><rect x="0.00" y="0.00" width="144.00" height="86.20" fill="#040404" /><g filter="url(#soft)"><path d="M-1.20 23.50 L10.80 23.08 L11.10 31.00 L19.80 37.00 L21.72 43.00 L21.12 47.20 L29.40 50.80 L34.92 57.40 L33.00 62.32 L24.00 65.92 L9.00 67.72 L-1.20 67.72 Z" fill="url(#skiD)" stroke="none" stroke-width="0.60" /><path d="M15.00 35.80 L19.92 37.12 L21.60 43.00 L21.00 47.20 L23.70 49.72 L17.10 52.00 L15.00 44.80 Z" fill="#2f3f3c" stroke="none" stroke-width="0.60" /><path d="M-1.20 62.50 L15.00 64.00 L25.20 63.40 L33.00 61.00 L34.92 57.70 L33.00 62.50 L24.00 66.40 L9.00 68.08 L-1.20 68.08 Z" fill="#1d2725" stroke="none" stroke-width="0.60" /><path d="M10.80 25.00 L16.80 25.90 L25.80 30.10 L25.20 33.40 L19.80 34.00 L15.00 33.10 L11.40 30.10 Z" fill="#050707" stroke="none" stroke-width="0.60" /><path d="M1.50 27.40 L3.72 27.40 L5.10 34.00 L6.60 28.00 L8.40 28.00 L6.12 36.28 L3.72 36.28 Z" fill="#121817" stroke="none" stroke-width="0.60" /><path d="M-1.20 37.30 L9.90 36.10 L11.28 40.00 L5.40 44.08 L-1.20 41.80 Z" fill="#d3e3e0" stroke="none" stroke-width="0.60" opacity=".85"/><path d="M11.88 52.72 L16.08 39.70 L17.76 40.30 L14.52 52.96 Z" fill="#c6d8d5" stroke="none" stroke-width="0.60" opacity=".8"/><path d="M4.68 60.88 L15.00 57.40 L25.20 52.90 L27.72 54.40 L16.80 60.28 L4.98 63.52 Z" fill="#dfedeb" stroke="none" stroke-width="0.60" opacity=".85"/><path d="M12.00 23.98 L16.92 24.88 L16.56 25.78 L12.00 25.00 Z" fill="#f2f8f7" stroke="none" stroke-width="0.60" /><path d="M23.40 29.92 L25.92 30.40 L25.68 31.72 L23.40 31.12 Z" fill="#c9d6d4" stroke="none" stroke-width="0.60" opacity=".8"/></g><rect x="0.00" y="0.00" width="144.00" height="10.50" fill="#2d2f2d" /><line x1="32.50" y1="0.50" x2="32.50" y2="10.20" stroke="#0a0a0a" stroke-width="0.70" /><line x1="71.50" y1="0.50" x2="71.50" y2="10.20" stroke="#0a0a0a" stroke-width="0.70" /><line x1="101.50" y1="0.50" x2="101.50" y2="10.20" stroke="#0a0a0a" stroke-width="0.70" /><text transform="translate(8.50 6.20) scale(0.1000 0.1000)" font-family="'Liberation Sans', sans-serif" font-size="27.0" font-weight="bold" font-style="normal" text-anchor="middle" fill="#9c9c9c" >SHIFT</text><text transform="translate(20.90 9.40) scale(0.1000 0.1000)" font-family="'DejaVu Sans', sans-serif" font-size="116.0" font-weight="bold" font-style="italic" text-anchor="middle" fill="#3fae2f" >N</text><text transform="translate(40.30 6.20) scale(0.1000 0.1000)" font-family="'Liberation Sans', sans-serif" font-size="27.0" font-weight="bold" font-style="normal" text-anchor="middle" fill="#9c9c9c" >DRIVE</text><text transform="translate(60.20 7.10) scale(0.0730 0.1000)" font-family="'Liberation Sans', sans-serif" font-size="53.0" font-weight="bold" font-style="normal" text-anchor="middle" fill="#fff" >NORMAL</text><text transform="translate(78.50 3.50) scale(0.0900 0.1000)" font-family="'Liberation Sans', sans-serif" font-size="24.0" font-weight="bold" font-style="normal" text-anchor="middle" fill="#9c9c9c" >OUTSIDE</text><text transform="translate(78.50 6.10) scale(0.0900 0.1000)" font-family="'Liberation Sans', sans-serif" font-size="24.0" font-weight="bold" font-style="normal" text-anchor="middle" fill="#9c9c9c" >WATER</text><text transform="translate(78.50 8.70) scale(0.0900 0.1000)" font-family="'Liberation Sans', sans-serif" font-size="24.0" font-weight="bold" font-style="normal" text-anchor="middle" fill="#9c9c9c" >TEMP</text><text transform="translate(92.40 7.00) scale(0.0720 0.1000)" font-family="'Liberation Sans', sans-serif" font-size="50.0" font-weight="bold" font-style="normal" text-anchor="middle" fill="#e4e4e4" >63.5°F</text><text transform="translate(110.00 4.60) scale(0.0950 0.1000)" font-family="'Liberation Sans', sans-serif" font-size="27.0" font-weight="bold" font-style="normal" text-anchor="middle" fill="#9c9c9c" >POWER</text><text transform="translate(110.00 7.70) scale(0.0950 0.1000)" font-family="'Liberation Sans', sans-serif" font-size="27.0" font-weight="bold" font-style="normal" text-anchor="middle" fill="#9c9c9c" >MODE</text><text transform="translate(125.00 7.40) scale(0.1000 0.1000)" font-family="'Liberation Sans', sans-serif" font-size="66.0" font-weight="bold" font-style="italic" text-anchor="middle" fill="#fff" >F</text><text transform="translate(130.60 7.40) scale(0.1000 0.1000)" font-family="'Liberation Sans', sans-serif" font-size="42.0" font-weight="bold" font-style="italic" text-anchor="middle" fill="#fff" >PO</text><text transform="translate(53.20 14.40) scale(0.1000 0.1000)" font-family="'Liberation Sans', sans-serif" font-size="26.0" font-weight="bold" font-style="normal" text-anchor="middle" fill="#ffffff" >TRIM</text><path d="M59.8 11.3 Q56.6 20.7 59.8 30.2" fill="none" stroke="#ddd" stroke-width="0.80" stroke-dasharray="1.2 .5"/><line x1="57.00" y1="20.70" x2="61.00" y2="20.70" stroke="#8fe070" stroke-width="1.00" /><text transform="translate(62.80 14.40) scale(0.1000 0.1000)" font-family="'Liberation Sans', sans-serif" font-size="22.0" font-weight="bold" font-style="normal" text-anchor="middle" fill="#ffffff" >UP</text><text transform="translate(63.80 28.60) scale(0.1000 0.1000)" font-family="'Liberation Sans', sans-serif" font-size="22.0" font-weight="bold" font-style="normal" text-anchor="middle" fill="#ffffff" >DOWN</text><g transform="translate(73.80 19.20) scale(0.970)"><ellipse cx="0" cy="3.2" rx="10.5" ry="3.2" fill="url(#waterD)"/><path d="M-10 1.2 L-8.5 -0.6 L-4.5 -1.4 L-2.6 -3.6 L-1 -3.4 L0.5 -1.6 L4 -2.2 L6.5 -1 L10.2 0.2 L9 1.9 L-8.6 2.1 Z" fill="#f4f4f4"/></g><circle cx="99.40" cy="19.30" r="0.45" fill="#999" stroke="none" stroke-width="0.60" /><circle cx="98.48" cy="22.75" r="0.45" fill="#999" stroke="none" stroke-width="0.60" /><circle cx="95.95" cy="25.28" r="0.45" fill="#999" stroke="none" stroke-width="0.60" /><circle cx="92.50" cy="26.20" r="0.45" fill="#999" stroke="none" stroke-width="0.60" /><circle cx="89.05" cy="25.28" r="0.45" fill="#999" stroke="none" stroke-width="0.60" /><circle cx="86.52" cy="22.75" r="0.45" fill="#999" stroke="none" stroke-width="0.60" /><circle cx="85.60" cy="19.30" r="0.45" fill="#999" stroke="none" stroke-width="0.60" /><circle cx="86.52" cy="15.85" r="0.45" fill="#999" stroke="none" stroke-width="0.60" /><circle cx="89.05" cy="13.32" r="0.45" fill="#999" stroke="none" stroke-width="0.60" /><circle cx="92.50" cy="12.40" r="0.45" fill="#999" stroke="none" stroke-width="0.60" /><circle cx="95.95" cy="13.32" r="0.45" fill="#999" stroke="none" stroke-width="0.60" /><circle cx="98.48" cy="15.85" r="0.45" fill="#999" stroke="none" stroke-width="0.60" /><line x1="96.30" y1="19.30" x2="99.75" y2="19.30" stroke="#999" stroke-width="0.50" /><line x1="92.50" y1="23.10" x2="92.50" y2="26.55" stroke="#999" stroke-width="0.50" /><line x1="88.70" y1="19.30" x2="85.25" y2="19.30" stroke="#999" stroke-width="0.50" /><line x1="92.50" y1="15.51" x2="92.50" y2="12.05" stroke="#c33" stroke-width="0.50" /><line x1="89.05" y1="19.30" x2="95.95" y2="19.30" stroke="#49b035" stroke-width="0.80" /><line x1="92.50" y1="15.85" x2="92.50" y2="22.75" stroke="#49b035" stroke-width="0.80" /><circle cx="92.50" cy="19.30" r="1.00" fill="#7fdc6a" stroke="none" stroke-width="0.60" /><text transform="translate(104.10 65.30) skewX(4.0) scale(0.1330 0.1000)" font-family="'Liberation Sans', sans-serif" font-size="474.0" font-weight="bold" font-style="italic" text-anchor="middle" fill="#ffffff" stroke="#ffffff" stroke-width="6.0" stroke-linejoin="round">0</text><text transform="translate(114.80 73.40) scale(0.1000 0.1000)" font-family="'DejaVu Sans', sans-serif" font-size="82.0" font-weight="bold" font-style="italic" text-anchor="middle" fill="#ffffff" >mph</text><path d="M127 10.5 V69 L136 78.5" fill="none" stroke="#3f7a38" stroke-width="0.90" /><text transform="translate(132.80 13.60) scale(0.0950 0.1000)" font-family="'Liberation Sans', sans-serif" font-size="27.0" font-weight="bold" font-style="normal" text-anchor="middle" fill="#b0b0b0" >APP</text><path d="M131.20 15.50 q1.6 -1.3 3.2 0" fill="none" stroke="#b0b0b0" stroke-width="0.55" /><path d="M131.90 16.40 q0.9 -0.8 1.8 0" fill="none" stroke="#b0b0b0" stroke-width="0.55" /><circle cx="132.80" cy="17.10" r="0.35" fill="#b0b0b0" stroke="none" stroke-width="0.60" /><line x1="128.50" y1="23.20" x2="143.50" y2="23.20" stroke="#555" stroke-width="0.45" /><g transform="translate(135.20 28.60) scale(1.100)"><rect x="-1.6" y="-2.2" width="3.2" height="4.4" fill="#ffffff"/><rect x="-1" y="-1.6" width="2" height="1.3" fill="#000" opacity=".45"/><path d="M-1.6 -1.2 L-2.8 -0.4 V1.6" fill="none" stroke="#ffffff" stroke-width=".6"/></g><g clip-path="url(#fuelclip)"><rect x="128.20" y="32.60" width="9.60" height="42.00" fill="#303030" /><rect x="128.80" y="33.00" width="8.60" height="4.20" fill="#ffffff" rx="0.7"/><rect x="128.80" y="38.15" width="8.60" height="4.20" fill="#ffffff" rx="0.7"/><rect x="128.80" y="43.30" width="8.60" height="4.20" fill="#ffffff" rx="0.7"/><rect x="128.80" y="48.45" width="8.60" height="4.20" fill="#ffffff" rx="0.7"/><rect x="128.80" y="53.60" width="8.60" height="4.20" fill="#ffffff" rx="0.7"/><rect x="128.80" y="58.75" width="8.60" height="4.20" fill="#ffffff" rx="0.7"/><rect x="128.80" y="63.90" width="8.60" height="4.20" fill="#ffffff" rx="0.7"/><rect x="128.80" y="69.05" width="8.60" height="4.20" fill="#ffffff" rx="0.7"/></g><line x1="138.80" y1="33.00" x2="138.80" y2="74.00" stroke="#ffffff" stroke-width="0.45" /><text transform="translate(141.30 37.00) scale(0.0850 0.1000)" font-family="'Liberation Sans', sans-serif" font-size="52.0" font-weight="bold" font-style="normal" text-anchor="middle" fill="#ffffff" >F</text><text transform="translate(141.30 73.60) scale(0.0850 0.1000)" font-family="'Liberation Sans', sans-serif" font-size="52.0" font-weight="bold" font-style="normal" text-anchor="middle" fill="#ffffff" >E</text><path d="M35.2 86.2 L43.6 78.5 H144 V86.2 Z" fill="#2b2c2b" stroke="none" stroke-width="0.60" /><path d="M34.8 86.4 L43.4 78.4 H60" fill="none" stroke="#3f8f35" stroke-width="0.90" /><line x1="83.50" y1="79.00" x2="83.50" y2="86.20" stroke="#0a0a0a" stroke-width="0.60" /><line x1="125.50" y1="79.00" x2="125.50" y2="86.20" stroke="#0a0a0a" stroke-width="0.60" /><text transform="translate(49.50 83.70) scale(0.1000 0.1000)" font-family="'Liberation Sans', sans-serif" font-size="26.0" font-weight="bold" font-style="normal" text-anchor="middle" fill="#9c9c9c" >TRIP</text><text transform="translate(71.20 84.80) scale(0.0780 0.1000)" font-family="'Liberation Sans', sans-serif" font-size="62.0" font-weight="bold" font-style="normal" text-anchor="middle" fill="#eee" >0.0</text><text transform="translate(79.80 84.30) scale(0.1000 0.1000)" font-family="'Liberation Sans', sans-serif" font-size="26.0" font-weight="bold" font-style="normal" text-anchor="middle" fill="#9c9c9c" >mile</text><text transform="translate(96.00 83.70) scale(0.0950 0.1000)" font-family="'Liberation Sans', sans-serif" font-size="26.0" font-weight="bold" font-style="normal" text-anchor="middle" fill="#9c9c9c" >OIL TEMP</text><text transform="translate(112.00 84.80) scale(0.0780 0.1000)" font-family="'Liberation Sans', sans-serif" font-size="62.0" font-weight="bold" font-style="normal" text-anchor="middle" fill="#eee" >240</text><text transform="translate(121.50 84.00) scale(0.1000 0.1000)" font-family="'Liberation Sans', sans-serif" font-size="30.0" font-weight="bold" font-style="normal" text-anchor="middle" fill="#ddd" >°F</text><text transform="translate(136.80 84.80) scale(0.0780 0.1000)" font-family="'Liberation Sans', sans-serif" font-size="62.0" font-weight="bold" font-style="normal" text-anchor="middle" fill="#eee" >1:00</text></g></g></g>
<g transform="translate(0.00 0.00)" fill="#fff"><path d="M523 334 L538 318 L539 325 Q557 327 566 339 Q572 348 572 359.4 L557.6 359.4 Q557 349 551 344.5 Q546 341 539 340 L538 349 Z"/><path d="M407.6 401.4 L422 401.4 Q422.5 411 428.5 416 Q434 420 442 420 L442.4 413 L457 428 L442.4 443 L442 436 Q426 436 416.5 426.5 Q408 417 407.6 401.4 Z"/></g><g transform="translate(-286.40 319.50)" fill="#fff"><path d="M523 334 L538 318 L539 325 Q557 327 566 339 Q572 348 572 359.4 L557.6 359.4 Q557 349 551 344.5 Q546 341 539 340 L538 349 Z"/><path d="M407.6 401.4 L422 401.4 Q422.5 411 428.5 416 Q434 420 442 420 L442.4 413 L457 428 L442.4 443 L442 436 Q426 436 416.5 426.5 Q408 417 407.6 401.4 Z"/></g><g transform="translate(311.50 319.50)" fill="#fff"><path d="M523 334 L538 318 L539 325 Q557 327 566 339 Q572 348 572 359.4 L557.6 359.4 Q557 349 551 344.5 Q546 341 539 340 L538 349 Z"/><path d="M407.6 401.4 L422 401.4 Q422.5 411 428.5 416 Q434 420 442 420 L442.4 413 L457 428 L442.4 443 L442 436 Q426 436 416.5 426.5 Q408 417 407.6 401.4 Z"/></g>
<g clip-path="url(#wmclip)"><text transform="translate(238.80 497.40) scale(1.050 1)" x="-1.24 8.23 18.06 27.67 37.30 44.90 52.48 61.81 70.45 79.47 88.86 97.75 98.69 104.74 114.25 123.86" y="0" font-family="'DejaVu Sans Mono', 'Liberation Mono', monospace" font-weight="bold" font-size="15.5" fill="#ffffff" fill-opacity=".64">PROMO-JETSK<tspan font-family="'Liberation Sans', sans-serif" font-size="16.3">I</tspan>.COM</text><text transform="translate(392.00 496.20) scale(1.050 1)" x="-1.24 8.23 18.06 27.67 37.30 44.90 52.48 61.81 70.45 79.47 88.86 97.75 98.69 104.74 114.25 123.86" y="0" font-family="'DejaVu Sans Mono', 'Liberation Mono', monospace" font-weight="bold" font-size="15.5" fill="#ffffff" fill-opacity=".64">PROMO-JETSK<tspan font-family="'Liberation Sans', sans-serif" font-size="16.3">I</tspan>.COM</text><text transform="translate(545.20 495.00) scale(1.050 1)" x="-1.24 8.23 18.06 27.67 37.30 44.90 52.48 61.81 70.45 79.47 88.86 97.75 98.69 104.74 114.25 123.86" y="0" font-family="'DejaVu Sans Mono', 'Liberation Mono', monospace" font-weight="bold" font-size="15.5" fill="#ffffff" fill-opacity=".64">PROMO-JETSK<tspan font-family="'Liberation Sans', sans-serif" font-size="16.3">I</tspan>.COM</text><text transform="translate(701.60 494.00) scale(1.050 1)" x="-1.24 8.23 18.06 27.67 37.30 44.90 52.48 61.81 70.45 79.47 88.86 97.75 98.69 104.74 114.25 123.86" y="0" font-family="'DejaVu Sans Mono', 'Liberation Mono', monospace" font-weight="bold" font-size="15.5" fill="#ffffff" fill-opacity=".64">PROMO-JETSK<tspan font-family="'Liberation Sans', sans-serif" font-size="16.3">I</tspan>.COM</text></g>
<clipPath id="wmclip"><path d="M230 478 H757.2 V489.5 H760.7 V502 H230 Z"/></clipPath>
</svg>
</body></html>
